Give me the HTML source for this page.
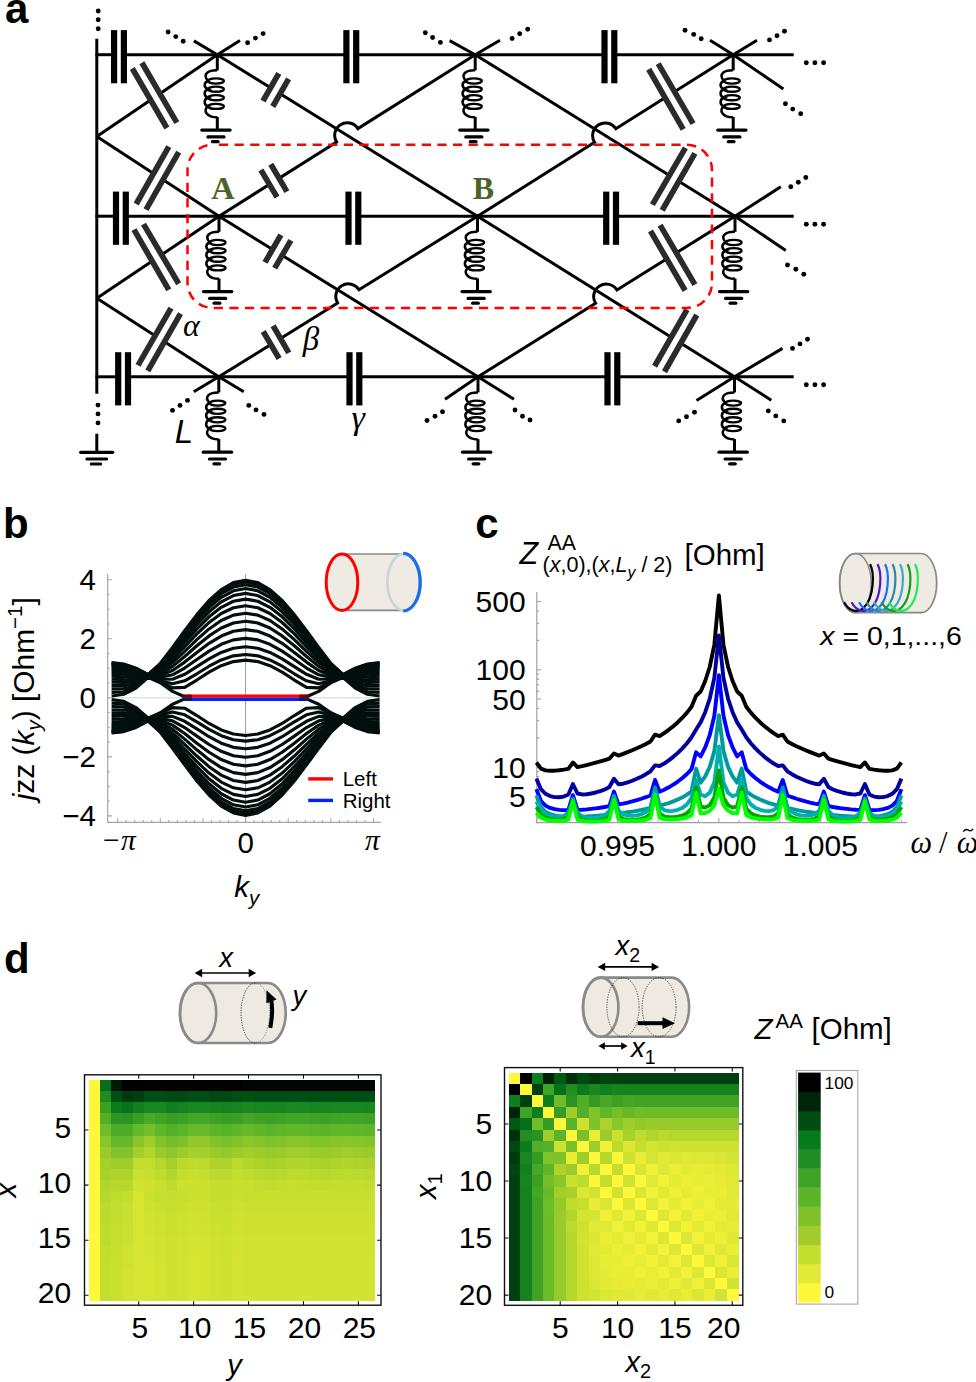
<!DOCTYPE html>
<html><head><meta charset="utf-8"><style>
html,body{margin:0;padding:0;background:#fff;}
svg{display:block;}

</style></head><body>
<svg width="976" height="1382" viewBox="0 0 976 1382">
<rect width="976" height="1382" fill="#fff"/>
<line x1="96.8" y1="38.8" x2="96.8" y2="393.7" stroke="#000" stroke-width="3" stroke-linecap="butt"/>
<line x1="96.8" y1="433.7" x2="96.8" y2="452.3" stroke="#000" stroke-width="3" stroke-linecap="butt"/>
<circle cx="98.2" cy="11" r="2.45"/>
<circle cx="98.2" cy="19.8" r="2.45"/>
<circle cx="98.2" cy="28.8" r="2.45"/>
<circle cx="98" cy="405.1" r="2.45"/>
<circle cx="98" cy="413.9" r="2.45"/>
<circle cx="98" cy="422.9" r="2.45"/>
<line x1="80.7" y1="452.3" x2="112.7" y2="452.3" stroke="#000" stroke-width="3.2" stroke-linecap="round"/>
<line x1="87" y1="459" x2="106.6" y2="459" stroke="#000" stroke-width="3.2" stroke-linecap="round"/>
<line x1="91.3" y1="464" x2="100.6" y2="464" stroke="#000" stroke-width="3.2" stroke-linecap="round"/>
<line x1="95.5" y1="54.7" x2="114.2" y2="54.7" stroke="#000" stroke-width="3" stroke-linecap="butt"/>
<line x1="123.8" y1="54.7" x2="346.5" y2="54.7" stroke="#000" stroke-width="3" stroke-linecap="butt"/>
<line x1="356.1" y1="54.7" x2="604.6" y2="54.7" stroke="#000" stroke-width="3" stroke-linecap="butt"/>
<line x1="614.2" y1="54.7" x2="793.7" y2="54.7" stroke="#000" stroke-width="3" stroke-linecap="butt"/>
<rect x="111" y="30.1" width="6.2" height="53.2" fill="#000"/>
<rect x="120.8" y="30.1" width="6.2" height="53.2" fill="#000"/>
<rect x="343.3" y="30.1" width="6.2" height="53.2" fill="#000"/>
<rect x="353.1" y="30.1" width="6.2" height="53.2" fill="#000"/>
<rect x="601.4" y="30.1" width="6.2" height="53.2" fill="#000"/>
<rect x="611.2" y="30.1" width="6.2" height="53.2" fill="#000"/>
<line x1="95.5" y1="216.2" x2="116.1" y2="216.2" stroke="#000" stroke-width="3" stroke-linecap="butt"/>
<line x1="125.7" y1="216.2" x2="348.6" y2="216.2" stroke="#000" stroke-width="3" stroke-linecap="butt"/>
<line x1="358.2" y1="216.2" x2="606.3" y2="216.2" stroke="#000" stroke-width="3" stroke-linecap="butt"/>
<line x1="615.9" y1="216.2" x2="793.7" y2="216.2" stroke="#000" stroke-width="3" stroke-linecap="butt"/>
<rect x="112.9" y="191.6" width="6.2" height="53.2" fill="#000"/>
<rect x="122.7" y="191.6" width="6.2" height="53.2" fill="#000"/>
<rect x="345.4" y="191.6" width="6.2" height="53.2" fill="#000"/>
<rect x="355.2" y="191.6" width="6.2" height="53.2" fill="#000"/>
<rect x="603.1" y="191.6" width="6.2" height="53.2" fill="#000"/>
<rect x="612.9" y="191.6" width="6.2" height="53.2" fill="#000"/>
<line x1="95.5" y1="376.8" x2="118.3" y2="376.8" stroke="#000" stroke-width="3" stroke-linecap="butt"/>
<line x1="127.9" y1="376.8" x2="349.6" y2="376.8" stroke="#000" stroke-width="3" stroke-linecap="butt"/>
<line x1="359.2" y1="376.8" x2="607.6" y2="376.8" stroke="#000" stroke-width="3" stroke-linecap="butt"/>
<line x1="617.2" y1="376.8" x2="793.7" y2="376.8" stroke="#000" stroke-width="3" stroke-linecap="butt"/>
<rect x="115.1" y="352.2" width="6.2" height="53.2" fill="#000"/>
<rect x="124.9" y="352.2" width="6.2" height="53.2" fill="#000"/>
<rect x="346.4" y="352.2" width="6.2" height="53.2" fill="#000"/>
<rect x="356.2" y="352.2" width="6.2" height="53.2" fill="#000"/>
<rect x="604.4" y="352.2" width="6.2" height="53.2" fill="#000"/>
<rect x="614.2" y="352.2" width="6.2" height="53.2" fill="#000"/>
<line x1="96.8" y1="136.6" x2="217.3" y2="54.7" stroke="#000" stroke-width="3" stroke-linecap="butt"/>
<line x1="96.8" y1="136.6" x2="219" y2="216.2" stroke="#000" stroke-width="3" stroke-linecap="butt"/>
<line x1="96.8" y1="298.3" x2="219" y2="216.2" stroke="#000" stroke-width="3" stroke-linecap="butt"/>
<line x1="96.8" y1="298.3" x2="218.8" y2="376.8" stroke="#000" stroke-width="3" stroke-linecap="butt"/>
<line x1="217.3" y1="54.7" x2="477.5" y2="216.2" stroke="#000" stroke-width="3" stroke-linecap="butt"/>
<line x1="475.2" y1="54.7" x2="735" y2="216.2" stroke="#000" stroke-width="3" stroke-linecap="butt"/>
<line x1="219" y1="216.2" x2="478" y2="376.8" stroke="#000" stroke-width="3" stroke-linecap="butt"/>
<line x1="477.5" y1="216.2" x2="734.5" y2="376.8" stroke="#000" stroke-width="3" stroke-linecap="butt"/>
<path d="M475.2 54.7L357.91 128.64A12.6 12.6 0 0 0 336.59 142.08L219 216.2" fill="none" stroke="#000" stroke-width="3"/>
<path d="M733.2 54.7L615.88 128.8A12.6 12.6 0 0 0 594.57 142.26L477.5 216.2" fill="none" stroke="#000" stroke-width="3"/>
<path d="M477.5 216.2L359.03 289.75A12.6 12.6 0 0 0 337.62 303.04L218.8 376.8" fill="none" stroke="#000" stroke-width="3"/>
<path d="M735 216.2L616.94 289.98A12.6 12.6 0 0 0 595.56 303.33L478 376.8" fill="none" stroke="#000" stroke-width="3"/>
<polygon points="132.2,68.3 167,128.2 176.9,122.8 141.8,62.6" fill="#fff"/>
<polygon points="164.44,129.46 169.36,126.6 134.76,67.04 129.84,69.9" fill="#2b2b2b"/>
<polygon points="174.34,124.06 179.26,121.19 144.36,61.34 139.44,64.21" fill="#2b2b2b"/>
<polygon points="136.1,204.2 168.9,146.5 178.8,152 145.9,209.8" fill="#fff"/>
<polygon points="171.28,148.08 166.32,145.27 133.72,202.62 138.68,205.43" fill="#2b2b2b"/>
<polygon points="181.18,153.58 176.22,150.76 143.52,208.22 148.48,211.04" fill="#2b2b2b"/>
<polygon points="133.9,229.5 168.9,290.1 178.8,283.9 143.4,224" fill="#fff"/>
<polygon points="166.33,291.35 171.27,288.5 136.47,228.25 131.53,231.1" fill="#2b2b2b"/>
<polygon points="176.24,285.18 181.15,282.28 145.96,222.72 141.05,225.62" fill="#2b2b2b"/>
<polygon points="137.9,365.5 171.1,308 180.6,313.5 147.7,371" fill="#fff"/>
<polygon points="173.47,309.6 168.53,306.75 135.53,363.9 140.47,366.75" fill="#2b2b2b"/>
<polygon points="182.97,315.09 178.03,312.26 145.33,369.41 150.27,372.24" fill="#2b2b2b"/>
<polygon points="648.6,69.1 683.3,129.6 693.2,123.8 658.1,63.5" fill="#fff"/>
<polygon points="680.73,130.84 685.67,128.01 651.17,67.86 646.23,70.69" fill="#2b2b2b"/>
<polygon points="690.64,125.06 695.56,122.19 660.66,62.24 655.74,65.11" fill="#2b2b2b"/>
<polygon points="652.3,204.8 685.5,147.7 695,153.2 662.1,210.4" fill="#fff"/>
<polygon points="687.86,149.31 682.94,146.44 649.94,203.19 654.86,206.06" fill="#2b2b2b"/>
<polygon points="697.37,154.79 692.43,151.95 659.73,208.81 664.67,211.65" fill="#2b2b2b"/>
<polygon points="650.4,230.8 685.2,290.7 695,284.8 660,224.9" fill="#fff"/>
<polygon points="682.64,291.96 687.56,289.1 652.96,229.54 648.04,232.4" fill="#2b2b2b"/>
<polygon points="692.44,286.07 697.36,283.19 662.56,223.63 657.64,226.51" fill="#2b2b2b"/>
<polygon points="654.5,366.4 687.1,309.5 696.9,314.8 664.4,371.9" fill="#fff"/>
<polygon points="689.47,311.09 684.53,308.26 652.13,364.81 657.07,367.64" fill="#2b2b2b"/>
<polygon points="699.28,316.38 694.32,313.56 662.02,370.32 666.98,373.14" fill="#2b2b2b"/>
<polygon points="262.9,101.2 278.9,73.2 288.7,78.7 272.7,106.7" fill="#fff"/>
<polygon points="281.28,74.79 276.33,71.96 260.52,99.61 265.47,102.44" fill="#2b2b2b"/>
<polygon points="291.08,80.29 286.13,77.46 270.32,105.11 275.27,107.94" fill="#2b2b2b"/>
<polygon points="260.8,169.9 277.1,197.3 287,191.8 270.7,164.1" fill="#fff"/>
<polygon points="274.55,198.59 279.45,195.67 263.35,168.61 258.45,171.53" fill="#2b2b2b"/>
<polygon points="284.44,193.07 289.35,190.18 273.26,162.83 268.35,165.72" fill="#2b2b2b"/>
<polygon points="264.9,262.6 281,234.7 291,240.2 274.6,268.3" fill="#fff"/>
<polygon points="283.37,236.3 278.43,233.45 262.53,261 267.47,263.85" fill="#2b2b2b"/>
<polygon points="293.36,241.81 288.44,238.94 272.24,266.69 277.16,269.56" fill="#2b2b2b"/>
<polygon points="263.1,331.4 279.2,358.6 288.9,353 273,325.6" fill="#fff"/>
<polygon points="276.65,359.88 281.55,356.98 265.65,330.12 260.75,333.02" fill="#2b2b2b"/>
<polygon points="286.33,354.26 291.26,351.4 275.57,324.34 270.64,327.2" fill="#2b2b2b"/>
<line x1="217.3" y1="54.7" x2="193.9" y2="40.9" stroke="#000" stroke-width="3" stroke-linecap="butt"/>
<circle cx="168.1" cy="32" r="2.45"/>
<circle cx="175.8" cy="36.6" r="2.45"/>
<circle cx="183.2" cy="41.2" r="2.45"/>
<line x1="217.3" y1="54.7" x2="240" y2="40.6" stroke="#000" stroke-width="3" stroke-linecap="butt"/>
<circle cx="247.6" cy="42.8" r="2.45"/>
<circle cx="255.4" cy="38.1" r="2.45"/>
<circle cx="263.1" cy="33.6" r="2.45"/>
<line x1="475.2" y1="54.7" x2="449.6" y2="40.6" stroke="#000" stroke-width="3" stroke-linecap="butt"/>
<circle cx="425.3" cy="32.8" r="2.45"/>
<circle cx="432.6" cy="37.5" r="2.45"/>
<circle cx="440.4" cy="42.4" r="2.45"/>
<line x1="475.2" y1="54.7" x2="500" y2="40.3" stroke="#000" stroke-width="3" stroke-linecap="butt"/>
<circle cx="512.1" cy="38.5" r="2.45"/>
<circle cx="519.7" cy="33.8" r="2.45"/>
<circle cx="527.7" cy="29.3" r="2.45"/>
<line x1="733.2" y1="54.7" x2="710" y2="40.2" stroke="#000" stroke-width="3" stroke-linecap="butt"/>
<circle cx="685" cy="30.2" r="2.45"/>
<circle cx="693.7" cy="34.4" r="2.45"/>
<circle cx="701.2" cy="38.7" r="2.45"/>
<line x1="733.2" y1="54.7" x2="757" y2="40.2" stroke="#000" stroke-width="3" stroke-linecap="butt"/>
<circle cx="769.5" cy="39.9" r="2.45"/>
<circle cx="777" cy="35.7" r="2.45"/>
<circle cx="784.5" cy="31.2" r="2.45"/>
<line x1="218.8" y1="376.8" x2="193.8" y2="391.8" stroke="#000" stroke-width="3" stroke-linecap="butt"/>
<circle cx="187.5" cy="400.4" r="2.45"/>
<circle cx="180" cy="405.4" r="2.45"/>
<circle cx="172.5" cy="410.4" r="2.45"/>
<line x1="218.8" y1="376.8" x2="243.8" y2="391.8" stroke="#000" stroke-width="3" stroke-linecap="butt"/>
<circle cx="248.8" cy="405.4" r="2.45"/>
<circle cx="256" cy="409.9" r="2.45"/>
<circle cx="264" cy="414.4" r="2.45"/>
<line x1="478" y1="376.8" x2="445" y2="399.2" stroke="#000" stroke-width="3" stroke-linecap="butt"/>
<circle cx="442.5" cy="411.8" r="2.45"/>
<circle cx="435" cy="416.3" r="2.45"/>
<circle cx="427" cy="420.5" r="2.45"/>
<line x1="478" y1="376.8" x2="514" y2="399.2" stroke="#000" stroke-width="3" stroke-linecap="butt"/>
<circle cx="515" cy="410" r="2.45"/>
<circle cx="522.5" cy="416.3" r="2.45"/>
<circle cx="530" cy="420" r="2.45"/>
<line x1="734.5" y1="376.8" x2="696.5" y2="400.4" stroke="#000" stroke-width="3" stroke-linecap="butt"/>
<circle cx="694.5" cy="412.2" r="2.45"/>
<circle cx="686.5" cy="416.7" r="2.45"/>
<circle cx="678.7" cy="420.9" r="2.45"/>
<line x1="733.2" y1="54.7" x2="783.4" y2="89.1" stroke="#000" stroke-width="3" stroke-linecap="butt"/>
<circle cx="785.4" cy="103.7" r="2.45"/>
<circle cx="792.7" cy="109.1" r="2.45"/>
<circle cx="800.7" cy="113.7" r="2.45"/>
<line x1="735" y1="216.2" x2="780.8" y2="186.8" stroke="#000" stroke-width="3" stroke-linecap="butt"/>
<circle cx="790.8" cy="186.8" r="2.45"/>
<circle cx="798.3" cy="182.3" r="2.45"/>
<circle cx="805.8" cy="177.5" r="2.45"/>
<line x1="735" y1="216.2" x2="785.8" y2="250.5" stroke="#000" stroke-width="3" stroke-linecap="butt"/>
<circle cx="787.5" cy="265" r="2.45"/>
<circle cx="795.8" cy="269.2" r="2.45"/>
<circle cx="803.8" cy="274.2" r="2.45"/>
<line x1="734.5" y1="376.8" x2="782.5" y2="348.4" stroke="#000" stroke-width="3" stroke-linecap="butt"/>
<circle cx="792.5" cy="348.4" r="2.45"/>
<circle cx="800" cy="343.9" r="2.45"/>
<circle cx="807.5" cy="339.2" r="2.45"/>
<line x1="734.5" y1="376.8" x2="771.3" y2="400.2" stroke="#000" stroke-width="3" stroke-linecap="butt"/>
<circle cx="768.3" cy="410.9" r="2.45"/>
<circle cx="775.8" cy="415.9" r="2.45"/>
<circle cx="783.8" cy="420.9" r="2.45"/>
<circle cx="806.3" cy="62.7" r="2.45"/>
<circle cx="814.9" cy="62.7" r="2.45"/>
<circle cx="823.6" cy="62.7" r="2.45"/>
<circle cx="806.3" cy="224.2" r="2.45"/>
<circle cx="814.9" cy="224.2" r="2.45"/>
<circle cx="823.6" cy="224.2" r="2.45"/>
<circle cx="806.3" cy="384.8" r="2.45"/>
<circle cx="814.9" cy="384.8" r="2.45"/>
<circle cx="823.6" cy="384.8" r="2.45"/>
<line x1="217.3" y1="54.7" x2="217.3" y2="70.3" stroke="#000" stroke-width="3" stroke-linecap="butt"/>
<path d="M217.3 70.3 C208.3 70.1 201.8 74.2 208.1 81 C203.5 82.5 203.5 87.7 208.1 89.2 C203.5 90.7 203.5 96.2 208.1 97.7 C203.5 99.2 203.5 104.9 208.1 106.4 C202.5 109.9 206.3 117.3 217.3 117.3" fill="none" stroke="#000" stroke-width="2.5"/>
<ellipse cx="216" cy="81" rx="7.9" ry="2.55" fill="none" stroke="#000" stroke-width="2.3"/>
<ellipse cx="216" cy="89.2" rx="7.9" ry="2.55" fill="none" stroke="#000" stroke-width="2.3"/>
<ellipse cx="216" cy="97.7" rx="7.9" ry="2.55" fill="none" stroke="#000" stroke-width="2.3"/>
<ellipse cx="216" cy="106.4" rx="7.9" ry="2.55" fill="none" stroke="#000" stroke-width="2.3"/>
<line x1="217.3" y1="117" x2="217.3" y2="130.1" stroke="#000" stroke-width="3" stroke-linecap="butt"/>
<line x1="201.8" y1="130.1" x2="230.1" y2="130.1" stroke="#000" stroke-width="3.2" stroke-linecap="round"/>
<line x1="207.9" y1="136.9" x2="224" y2="136.9" stroke="#000" stroke-width="3.2" stroke-linecap="round"/>
<line x1="212.4" y1="141.7" x2="218.1" y2="141.7" stroke="#000" stroke-width="3.2" stroke-linecap="round"/>
<line x1="475.2" y1="54.7" x2="475.2" y2="70.3" stroke="#000" stroke-width="3" stroke-linecap="butt"/>
<path d="M475.2 70.3 C466.2 70.1 459.7 74.2 466 81 C461.4 82.5 461.4 87.7 466 89.2 C461.4 90.7 461.4 96.2 466 97.7 C461.4 99.2 461.4 104.9 466 106.4 C460.4 109.9 464.2 117.3 475.2 117.3" fill="none" stroke="#000" stroke-width="2.5"/>
<ellipse cx="473.9" cy="81" rx="7.9" ry="2.55" fill="none" stroke="#000" stroke-width="2.3"/>
<ellipse cx="473.9" cy="89.2" rx="7.9" ry="2.55" fill="none" stroke="#000" stroke-width="2.3"/>
<ellipse cx="473.9" cy="97.7" rx="7.9" ry="2.55" fill="none" stroke="#000" stroke-width="2.3"/>
<ellipse cx="473.9" cy="106.4" rx="7.9" ry="2.55" fill="none" stroke="#000" stroke-width="2.3"/>
<line x1="475.2" y1="117" x2="475.2" y2="130.1" stroke="#000" stroke-width="3" stroke-linecap="butt"/>
<line x1="459.7" y1="130.1" x2="488" y2="130.1" stroke="#000" stroke-width="3.2" stroke-linecap="round"/>
<line x1="465.8" y1="136.9" x2="481.9" y2="136.9" stroke="#000" stroke-width="3.2" stroke-linecap="round"/>
<line x1="470.3" y1="141.7" x2="476" y2="141.7" stroke="#000" stroke-width="3.2" stroke-linecap="round"/>
<line x1="733.2" y1="54.7" x2="733.2" y2="70.3" stroke="#000" stroke-width="3" stroke-linecap="butt"/>
<path d="M733.2 70.3 C724.2 70.1 717.7 74.2 724 81 C719.4 82.5 719.4 87.7 724 89.2 C719.4 90.7 719.4 96.2 724 97.7 C719.4 99.2 719.4 104.9 724 106.4 C718.4 109.9 722.2 117.3 733.2 117.3" fill="none" stroke="#000" stroke-width="2.5"/>
<ellipse cx="731.9" cy="81" rx="7.9" ry="2.55" fill="none" stroke="#000" stroke-width="2.3"/>
<ellipse cx="731.9" cy="89.2" rx="7.9" ry="2.55" fill="none" stroke="#000" stroke-width="2.3"/>
<ellipse cx="731.9" cy="97.7" rx="7.9" ry="2.55" fill="none" stroke="#000" stroke-width="2.3"/>
<ellipse cx="731.9" cy="106.4" rx="7.9" ry="2.55" fill="none" stroke="#000" stroke-width="2.3"/>
<line x1="733.2" y1="117" x2="733.2" y2="130.1" stroke="#000" stroke-width="3" stroke-linecap="butt"/>
<line x1="717.7" y1="130.1" x2="746" y2="130.1" stroke="#000" stroke-width="3.2" stroke-linecap="round"/>
<line x1="723.8" y1="136.9" x2="739.9" y2="136.9" stroke="#000" stroke-width="3.2" stroke-linecap="round"/>
<line x1="728.3" y1="141.7" x2="734" y2="141.7" stroke="#000" stroke-width="3.2" stroke-linecap="round"/>
<line x1="219" y1="216.2" x2="219" y2="231.8" stroke="#000" stroke-width="3" stroke-linecap="butt"/>
<path d="M219 231.8 C210 231.6 203.5 235.7 209.8 242.5 C205.2 244 205.2 249.2 209.8 250.7 C205.2 252.2 205.2 257.7 209.8 259.2 C205.2 260.7 205.2 266.4 209.8 267.9 C204.2 271.4 208 278.8 219 278.8" fill="none" stroke="#000" stroke-width="2.5"/>
<ellipse cx="217.7" cy="242.5" rx="7.9" ry="2.55" fill="none" stroke="#000" stroke-width="2.3"/>
<ellipse cx="217.7" cy="250.7" rx="7.9" ry="2.55" fill="none" stroke="#000" stroke-width="2.3"/>
<ellipse cx="217.7" cy="259.2" rx="7.9" ry="2.55" fill="none" stroke="#000" stroke-width="2.3"/>
<ellipse cx="217.7" cy="267.9" rx="7.9" ry="2.55" fill="none" stroke="#000" stroke-width="2.3"/>
<line x1="219" y1="278.5" x2="219" y2="291.6" stroke="#000" stroke-width="3" stroke-linecap="butt"/>
<line x1="203.5" y1="291.6" x2="231.8" y2="291.6" stroke="#000" stroke-width="3.2" stroke-linecap="round"/>
<line x1="209.6" y1="298.4" x2="225.7" y2="298.4" stroke="#000" stroke-width="3.2" stroke-linecap="round"/>
<line x1="214.1" y1="303.2" x2="219.8" y2="303.2" stroke="#000" stroke-width="3.2" stroke-linecap="round"/>
<line x1="477.5" y1="216.2" x2="477.5" y2="231.8" stroke="#000" stroke-width="3" stroke-linecap="butt"/>
<path d="M477.5 231.8 C468.5 231.6 462 235.7 468.3 242.5 C463.7 244 463.7 249.2 468.3 250.7 C463.7 252.2 463.7 257.7 468.3 259.2 C463.7 260.7 463.7 266.4 468.3 267.9 C462.7 271.4 466.5 278.8 477.5 278.8" fill="none" stroke="#000" stroke-width="2.5"/>
<ellipse cx="476.2" cy="242.5" rx="7.9" ry="2.55" fill="none" stroke="#000" stroke-width="2.3"/>
<ellipse cx="476.2" cy="250.7" rx="7.9" ry="2.55" fill="none" stroke="#000" stroke-width="2.3"/>
<ellipse cx="476.2" cy="259.2" rx="7.9" ry="2.55" fill="none" stroke="#000" stroke-width="2.3"/>
<ellipse cx="476.2" cy="267.9" rx="7.9" ry="2.55" fill="none" stroke="#000" stroke-width="2.3"/>
<line x1="477.5" y1="278.5" x2="477.5" y2="291.6" stroke="#000" stroke-width="3" stroke-linecap="butt"/>
<line x1="462" y1="291.6" x2="490.3" y2="291.6" stroke="#000" stroke-width="3.2" stroke-linecap="round"/>
<line x1="468.1" y1="298.4" x2="484.2" y2="298.4" stroke="#000" stroke-width="3.2" stroke-linecap="round"/>
<line x1="472.6" y1="303.2" x2="478.3" y2="303.2" stroke="#000" stroke-width="3.2" stroke-linecap="round"/>
<line x1="735" y1="216.2" x2="735" y2="231.8" stroke="#000" stroke-width="3" stroke-linecap="butt"/>
<path d="M735 231.8 C726 231.6 719.5 235.7 725.8 242.5 C721.2 244 721.2 249.2 725.8 250.7 C721.2 252.2 721.2 257.7 725.8 259.2 C721.2 260.7 721.2 266.4 725.8 267.9 C720.2 271.4 724 278.8 735 278.8" fill="none" stroke="#000" stroke-width="2.5"/>
<ellipse cx="733.7" cy="242.5" rx="7.9" ry="2.55" fill="none" stroke="#000" stroke-width="2.3"/>
<ellipse cx="733.7" cy="250.7" rx="7.9" ry="2.55" fill="none" stroke="#000" stroke-width="2.3"/>
<ellipse cx="733.7" cy="259.2" rx="7.9" ry="2.55" fill="none" stroke="#000" stroke-width="2.3"/>
<ellipse cx="733.7" cy="267.9" rx="7.9" ry="2.55" fill="none" stroke="#000" stroke-width="2.3"/>
<line x1="735" y1="278.5" x2="735" y2="291.6" stroke="#000" stroke-width="3" stroke-linecap="butt"/>
<line x1="719.5" y1="291.6" x2="747.8" y2="291.6" stroke="#000" stroke-width="3.2" stroke-linecap="round"/>
<line x1="725.6" y1="298.4" x2="741.7" y2="298.4" stroke="#000" stroke-width="3.2" stroke-linecap="round"/>
<line x1="730.1" y1="303.2" x2="735.8" y2="303.2" stroke="#000" stroke-width="3.2" stroke-linecap="round"/>
<line x1="218.8" y1="376.8" x2="218.8" y2="392.4" stroke="#000" stroke-width="3" stroke-linecap="butt"/>
<path d="M218.8 392.4 C209.8 392.2 203.3 396.3 209.6 403.1 C205 404.6 205 409.8 209.6 411.3 C205 412.8 205 418.3 209.6 419.8 C205 421.3 205 427 209.6 428.5 C204 432 207.8 439.4 218.8 439.4" fill="none" stroke="#000" stroke-width="2.5"/>
<ellipse cx="217.5" cy="403.1" rx="7.9" ry="2.55" fill="none" stroke="#000" stroke-width="2.3"/>
<ellipse cx="217.5" cy="411.3" rx="7.9" ry="2.55" fill="none" stroke="#000" stroke-width="2.3"/>
<ellipse cx="217.5" cy="419.8" rx="7.9" ry="2.55" fill="none" stroke="#000" stroke-width="2.3"/>
<ellipse cx="217.5" cy="428.5" rx="7.9" ry="2.55" fill="none" stroke="#000" stroke-width="2.3"/>
<line x1="218.8" y1="439.1" x2="218.8" y2="452.2" stroke="#000" stroke-width="3" stroke-linecap="butt"/>
<line x1="203.3" y1="452.2" x2="231.6" y2="452.2" stroke="#000" stroke-width="3.2" stroke-linecap="round"/>
<line x1="209.4" y1="459" x2="225.5" y2="459" stroke="#000" stroke-width="3.2" stroke-linecap="round"/>
<line x1="213.9" y1="463.8" x2="219.6" y2="463.8" stroke="#000" stroke-width="3.2" stroke-linecap="round"/>
<line x1="478" y1="376.8" x2="478" y2="392.4" stroke="#000" stroke-width="3" stroke-linecap="butt"/>
<path d="M478 392.4 C469 392.2 462.5 396.3 468.8 403.1 C464.2 404.6 464.2 409.8 468.8 411.3 C464.2 412.8 464.2 418.3 468.8 419.8 C464.2 421.3 464.2 427 468.8 428.5 C463.2 432 467 439.4 478 439.4" fill="none" stroke="#000" stroke-width="2.5"/>
<ellipse cx="476.7" cy="403.1" rx="7.9" ry="2.55" fill="none" stroke="#000" stroke-width="2.3"/>
<ellipse cx="476.7" cy="411.3" rx="7.9" ry="2.55" fill="none" stroke="#000" stroke-width="2.3"/>
<ellipse cx="476.7" cy="419.8" rx="7.9" ry="2.55" fill="none" stroke="#000" stroke-width="2.3"/>
<ellipse cx="476.7" cy="428.5" rx="7.9" ry="2.55" fill="none" stroke="#000" stroke-width="2.3"/>
<line x1="478" y1="439.1" x2="478" y2="452.2" stroke="#000" stroke-width="3" stroke-linecap="butt"/>
<line x1="462.5" y1="452.2" x2="490.8" y2="452.2" stroke="#000" stroke-width="3.2" stroke-linecap="round"/>
<line x1="468.6" y1="459" x2="484.7" y2="459" stroke="#000" stroke-width="3.2" stroke-linecap="round"/>
<line x1="473.1" y1="463.8" x2="478.8" y2="463.8" stroke="#000" stroke-width="3.2" stroke-linecap="round"/>
<line x1="734.5" y1="376.8" x2="734.5" y2="392.4" stroke="#000" stroke-width="3" stroke-linecap="butt"/>
<path d="M734.5 392.4 C725.5 392.2 719 396.3 725.3 403.1 C720.7 404.6 720.7 409.8 725.3 411.3 C720.7 412.8 720.7 418.3 725.3 419.8 C720.7 421.3 720.7 427 725.3 428.5 C719.7 432 723.5 439.4 734.5 439.4" fill="none" stroke="#000" stroke-width="2.5"/>
<ellipse cx="733.2" cy="403.1" rx="7.9" ry="2.55" fill="none" stroke="#000" stroke-width="2.3"/>
<ellipse cx="733.2" cy="411.3" rx="7.9" ry="2.55" fill="none" stroke="#000" stroke-width="2.3"/>
<ellipse cx="733.2" cy="419.8" rx="7.9" ry="2.55" fill="none" stroke="#000" stroke-width="2.3"/>
<ellipse cx="733.2" cy="428.5" rx="7.9" ry="2.55" fill="none" stroke="#000" stroke-width="2.3"/>
<line x1="734.5" y1="439.1" x2="734.5" y2="452.2" stroke="#000" stroke-width="3" stroke-linecap="butt"/>
<line x1="719" y1="452.2" x2="747.3" y2="452.2" stroke="#000" stroke-width="3.2" stroke-linecap="round"/>
<line x1="725.1" y1="459" x2="741.2" y2="459" stroke="#000" stroke-width="3.2" stroke-linecap="round"/>
<line x1="729.6" y1="463.8" x2="735.3" y2="463.8" stroke="#000" stroke-width="3.2" stroke-linecap="round"/>
<rect x="187.5" y="144.8" width="524.5" height="163.1" rx="25" ry="25" fill="none" stroke="#ff0000" stroke-width="2.5" stroke-dasharray="9.2 6.4" stroke-dashoffset="9.1"/>
<text x="211.2" y="198.9" font-family="Liberation Serif" font-weight="bold" font-size="32.5" fill="#4d6429">A</text>
<text x="472.8" y="198.8" font-family="Liberation Serif" font-weight="bold" font-size="32" fill="#4d6429">B</text>
<text x="182.9" y="336.2" font-family="Liberation Serif" font-style="italic" font-size="32">&#945;</text>
<text x="302.8" y="349.7" font-family="Liberation Serif" font-style="italic" font-size="33">&#946;</text>
<text x="351.5" y="428.6" font-family="Liberation Serif" font-style="italic" font-size="34">&#947;</text>
<text x="174.7" y="442.5" font-family="Liberation Sans" font-style="italic" font-size="33">L</text>
<text x="5.1" y="23" font-family="Liberation Sans" font-weight="bold" font-size="42">a</text>
<line x1="245.6" y1="573.9" x2="245.6" y2="822.3" stroke="#9a9a9a" stroke-width="1" stroke-linecap="butt"/>
<line x1="107.7" y1="697.8" x2="380.9" y2="697.8" stroke="#e2e2e2" stroke-width="1.6" stroke-linecap="butt"/>
<g fill="none" stroke="#030e0e" stroke-width="3.15" stroke-linejoin="round"><polyline points="111.6,733.05 123.78,731.63 135.96,727.48 148.15,720.98 160.33,732.18 172.51,748.2 184.69,764.92 196.87,780.97 209.05,795.06 221.24,806.02 233.42,812.97 245.6,815.36 257.78,812.97 269.96,806.02 282.15,795.06 294.33,780.97 306.51,764.92 318.69,748.2 330.87,732.18 343.05,720.98 355.24,727.48 367.42,731.63 379.6,733.05"/><polyline points="111.6,732.51 123.78,731.11 135.96,727.07 148.15,720.9 160.33,731.76 172.51,747.43 184.69,763.89 196.87,779.72 209.05,793.62 221.24,804.45 233.42,811.32 245.6,813.68 257.78,811.32 269.96,804.45 282.15,793.62 294.33,779.72 306.51,763.89 318.69,747.43 330.87,731.76 343.05,720.9 355.24,727.07 367.42,731.11 379.6,732.51"/><polyline points="111.6,731.61 123.78,730.26 135.96,726.41 148.15,720.78 160.33,731.07 172.51,746.17 184.69,762.17 196.87,777.64 209.05,791.25 221.24,801.86 233.42,808.59 245.6,810.9 257.78,808.59 269.96,801.86 282.15,791.25 294.33,777.64 306.51,762.17 318.69,746.17 330.87,731.07 343.05,720.78 355.24,726.41 367.42,730.26 379.6,731.61"/><polyline points="111.6,730.36 123.78,729.07 135.96,725.49 148.15,720.61 160.33,730.12 172.51,744.42 184.69,759.8 196.87,774.76 209.05,787.96 221.24,798.27 233.42,804.82 245.6,807.07 257.78,804.82 269.96,798.27 282.15,787.96 294.33,774.76 306.51,759.8 318.69,744.42 330.87,730.12 343.05,720.61 355.24,725.49 367.42,729.07 379.6,730.36"/><polyline points="111.6,728.78 123.78,727.57 135.96,724.33 148.15,720.41 160.33,728.92 172.51,742.2 184.69,756.79 196.87,771.11 209.05,783.8 221.24,793.74 233.42,800.05 245.6,802.22 257.78,800.05 269.96,793.74 282.15,783.8 294.33,771.11 306.51,756.79 318.69,742.2 330.87,728.92 343.05,720.41 355.24,724.33 367.42,727.57 379.6,728.78"/><polyline points="111.6,726.88 123.78,725.77 135.96,722.95 148.15,720.17 160.33,727.5 172.51,739.54 184.69,753.18 196.87,766.74 209.05,778.83 221.24,788.31 233.42,794.36 245.6,796.43 257.78,794.36 269.96,788.31 282.15,778.83 294.33,766.74 306.51,753.18 318.69,739.54 330.87,727.5 343.05,720.17 355.24,722.95 367.42,725.77 379.6,726.88"/><polyline points="111.6,724.69 123.78,723.69 135.96,721.37 148.15,719.91 160.33,725.89 172.51,736.46 184.69,749 196.87,761.69 209.05,773.09 221.24,782.08 233.42,787.82 245.6,789.79 257.78,787.82 269.96,782.08 282.15,773.09 294.33,761.69 306.51,749 318.69,736.46 330.87,725.89 343.05,719.91 355.24,721.37 367.42,723.69 379.6,724.69"/><polyline points="111.6,722.21 123.78,721.35 135.96,719.62 148.15,719.63 160.33,724.12 172.51,733.01 184.69,744.3 196.87,756.03 209.05,766.68 221.24,775.13 233.42,780.53 245.6,782.39 257.78,780.53 269.96,775.13 282.15,766.68 294.33,756.03 306.51,744.3 318.69,733.01 330.87,724.12 343.05,719.63 355.24,719.62 367.42,721.35 379.6,722.21"/><polyline points="111.6,719.49 123.78,718.78 135.96,717.73 148.15,719.36 160.33,722.24 172.51,729.22 184.69,739.12 196.87,749.82 209.05,759.69 221.24,767.57 233.42,772.63 245.6,774.37 257.78,772.63 269.96,767.57 282.15,759.69 294.33,749.82 306.51,739.12 318.69,729.22 330.87,722.24 343.05,719.36 355.24,717.73 367.42,718.78 379.6,719.49"/><polyline points="111.6,716.54 123.78,716 135.96,715.76 148.15,719.09 160.33,720.3 172.51,725.15 184.69,733.52 196.87,743.15 209.05,752.24 221.24,759.56 233.42,764.29 245.6,765.92 257.78,764.29 269.96,759.56 282.15,752.24 294.33,743.15 306.51,733.52 318.69,725.15 330.87,720.3 343.05,719.09 355.24,715.76 367.42,716 379.6,716.54"/><polyline points="111.6,713.41 123.78,713.06 135.96,713.76 148.15,718.84 160.33,718.37 172.51,720.84 184.69,727.56 196.87,736.13 209.05,744.5 221.24,751.32 233.42,755.74 245.6,757.27 257.78,755.74 269.96,751.32 282.15,744.5 294.33,736.13 306.51,727.56 318.69,720.84 330.87,718.37 343.05,718.84 355.24,713.76 367.42,713.06 379.6,713.41"/><polyline points="111.6,710.11 123.78,710.01 135.96,711.8 148.15,718.62 160.33,716.55 172.51,716.39 184.69,721.3 196.87,728.93 209.05,736.72 221.24,743.16 233.42,747.35 245.6,748.8 257.78,747.35 269.96,743.16 282.15,736.72 294.33,728.93 306.51,721.3 318.69,716.39 330.87,716.55 343.05,718.62 355.24,711.8 367.42,710.01 379.6,710.11"/><polyline points="111.6,706.68 123.78,706.89 135.96,710.01 148.15,718.43 160.33,714.93 172.51,711.92 184.69,714.81 196.87,721.82 209.05,729.38 221.24,735.66 233.42,739.75 245.6,741.16 257.78,739.75 269.96,735.66 282.15,729.38 294.33,721.82 306.51,714.81 318.69,711.92 330.87,714.93 343.05,718.43 355.24,710.01 367.42,706.89 379.6,706.68"/><polyline points="111.6,703.17 123.78,703.86 135.96,708.53 148.15,718.3 160.33,713.65 172.51,707.67 184.69,708.22 196.87,715.55 209.05,723.48 221.24,729.9 233.42,734.03 245.6,735.45 257.78,734.03 269.96,729.9 282.15,723.48 294.33,715.55 306.51,708.22 318.69,707.67 330.87,713.65 343.05,718.3 355.24,708.53 367.42,703.86 379.6,703.17"/><polyline points="111.6,692.43 123.78,691.74 135.96,687.07 148.15,677.3 160.33,681.95 172.51,687.93 184.69,687.38 196.87,680.05 209.05,672.12 221.24,665.7 233.42,661.57 245.6,660.15 257.78,661.57 269.96,665.7 282.15,672.12 294.33,680.05 306.51,687.38 318.69,687.93 330.87,681.95 343.05,677.3 355.24,687.07 367.42,691.74 379.6,692.43"/><polyline points="111.6,688.92 123.78,688.71 135.96,685.59 148.15,677.17 160.33,680.67 172.51,683.68 184.69,680.79 196.87,673.78 209.05,666.22 221.24,659.94 233.42,655.85 245.6,654.44 257.78,655.85 269.96,659.94 282.15,666.22 294.33,673.78 306.51,680.79 318.69,683.68 330.87,680.67 343.05,677.17 355.24,685.59 367.42,688.71 379.6,688.92"/><polyline points="111.6,685.49 123.78,685.59 135.96,683.8 148.15,676.98 160.33,679.05 172.51,679.21 184.69,674.3 196.87,666.67 209.05,658.88 221.24,652.44 233.42,648.25 245.6,646.8 257.78,648.25 269.96,652.44 282.15,658.88 294.33,666.67 306.51,674.3 318.69,679.21 330.87,679.05 343.05,676.98 355.24,683.8 367.42,685.59 379.6,685.49"/><polyline points="111.6,682.19 123.78,682.54 135.96,681.84 148.15,676.76 160.33,677.23 172.51,674.76 184.69,668.04 196.87,659.47 209.05,651.1 221.24,644.28 233.42,639.86 245.6,638.33 257.78,639.86 269.96,644.28 282.15,651.1 294.33,659.47 306.51,668.04 318.69,674.76 330.87,677.23 343.05,676.76 355.24,681.84 367.42,682.54 379.6,682.19"/><polyline points="111.6,679.06 123.78,679.6 135.96,679.84 148.15,676.51 160.33,675.3 172.51,670.45 184.69,662.08 196.87,652.45 209.05,643.36 221.24,636.04 233.42,631.31 245.6,629.68 257.78,631.31 269.96,636.04 282.15,643.36 294.33,652.45 306.51,662.08 318.69,670.45 330.87,675.3 343.05,676.51 355.24,679.84 367.42,679.6 379.6,679.06"/><polyline points="111.6,676.11 123.78,676.82 135.96,677.87 148.15,676.24 160.33,673.36 172.51,666.38 184.69,656.48 196.87,645.78 209.05,635.91 221.24,628.03 233.42,622.97 245.6,621.23 257.78,622.97 269.96,628.03 282.15,635.91 294.33,645.78 306.51,656.48 318.69,666.38 330.87,673.36 343.05,676.24 355.24,677.87 367.42,676.82 379.6,676.11"/><polyline points="111.6,673.39 123.78,674.25 135.96,675.98 148.15,675.97 160.33,671.48 172.51,662.59 184.69,651.3 196.87,639.57 209.05,628.92 221.24,620.47 233.42,615.07 245.6,613.21 257.78,615.07 269.96,620.47 282.15,628.92 294.33,639.57 306.51,651.3 318.69,662.59 330.87,671.48 343.05,675.97 355.24,675.98 367.42,674.25 379.6,673.39"/><polyline points="111.6,670.91 123.78,671.91 135.96,674.23 148.15,675.69 160.33,669.71 172.51,659.14 184.69,646.6 196.87,633.91 209.05,622.51 221.24,613.52 233.42,607.78 245.6,605.81 257.78,607.78 269.96,613.52 282.15,622.51 294.33,633.91 306.51,646.6 318.69,659.14 330.87,669.71 343.05,675.69 355.24,674.23 367.42,671.91 379.6,670.91"/><polyline points="111.6,668.72 123.78,669.83 135.96,672.65 148.15,675.43 160.33,668.1 172.51,656.06 184.69,642.42 196.87,628.86 209.05,616.77 221.24,607.29 233.42,601.24 245.6,599.17 257.78,601.24 269.96,607.29 282.15,616.77 294.33,628.86 306.51,642.42 318.69,656.06 330.87,668.1 343.05,675.43 355.24,672.65 367.42,669.83 379.6,668.72"/><polyline points="111.6,666.82 123.78,668.03 135.96,671.27 148.15,675.19 160.33,666.68 172.51,653.4 184.69,638.81 196.87,624.49 209.05,611.8 221.24,601.86 233.42,595.55 245.6,593.38 257.78,595.55 269.96,601.86 282.15,611.8 294.33,624.49 306.51,638.81 318.69,653.4 330.87,666.68 343.05,675.19 355.24,671.27 367.42,668.03 379.6,666.82"/><polyline points="111.6,665.24 123.78,666.53 135.96,670.11 148.15,674.99 160.33,665.48 172.51,651.18 184.69,635.8 196.87,620.84 209.05,607.64 221.24,597.33 233.42,590.78 245.6,588.53 257.78,590.78 269.96,597.33 282.15,607.64 294.33,620.84 306.51,635.8 318.69,651.18 330.87,665.48 343.05,674.99 355.24,670.11 367.42,666.53 379.6,665.24"/><polyline points="111.6,663.99 123.78,665.34 135.96,669.19 148.15,674.82 160.33,664.53 172.51,649.43 184.69,633.43 196.87,617.96 209.05,604.35 221.24,593.74 233.42,587.01 245.6,584.7 257.78,587.01 269.96,593.74 282.15,604.35 294.33,617.96 306.51,633.43 318.69,649.43 330.87,664.53 343.05,674.82 355.24,669.19 367.42,665.34 379.6,663.99"/><polyline points="111.6,663.09 123.78,664.49 135.96,668.53 148.15,674.7 160.33,663.84 172.51,648.17 184.69,631.71 196.87,615.88 209.05,601.98 221.24,591.15 233.42,584.28 245.6,581.92 257.78,584.28 269.96,591.15 282.15,601.98 294.33,615.88 306.51,631.71 318.69,648.17 330.87,663.84 343.05,674.7 355.24,668.53 367.42,664.49 379.6,663.09"/><polyline points="111.6,662.55 123.78,663.97 135.96,668.12 148.15,674.62 160.33,663.42 172.51,647.4 184.69,630.68 196.87,614.63 209.05,600.54 221.24,589.58 233.42,582.63 245.6,580.24 257.78,582.63 269.96,589.58 282.15,600.54 294.33,614.63 306.51,630.68 318.69,647.4 330.87,663.42 343.05,674.62 355.24,668.12 367.42,663.97 379.6,662.55"/><polyline points="111.6,699.59 123.78,701.29 135.96,707.53 148.15,718.21 160.33,712.81 172.51,704.24 184.69,698.83"/><polyline points="306.51,698.83 318.69,704.24 330.87,712.81 343.05,718.21 355.24,707.53 367.42,701.29 379.6,699.59"/><polyline points="111.6,696.01 123.78,694.31 135.96,688.07 148.15,677.39 160.33,682.79 172.51,691.36 184.69,696.77"/><polyline points="306.51,696.77 318.69,691.36 330.87,682.79 343.05,677.39 355.24,688.07 367.42,694.31 379.6,696.01"/></g>
<line x1="182.62" y1="696.2" x2="308.58" y2="696.2" stroke="#ff0000" stroke-width="3.2" stroke-linecap="butt"/>
<line x1="182.62" y1="699.4" x2="308.58" y2="699.4" stroke="#0022ff" stroke-width="3.2" stroke-linecap="butt"/>
<line x1="182.62" y1="696.2" x2="192" y2="696.2" stroke="#7a0000" stroke-width="3.2" stroke-linecap="butt"/>
<line x1="182.62" y1="699.4" x2="192" y2="699.4" stroke="#001a80" stroke-width="3.2" stroke-linecap="butt"/>
<line x1="299.2" y1="696.2" x2="308.58" y2="696.2" stroke="#7a0000" stroke-width="3.2" stroke-linecap="butt"/>
<line x1="299.2" y1="699.4" x2="308.58" y2="699.4" stroke="#001a80" stroke-width="3.2" stroke-linecap="butt"/>
<line x1="107.7" y1="573.9" x2="107.7" y2="822.8" stroke="#a6a6a6" stroke-width="1.2" stroke-linecap="butt"/>
<line x1="107.2" y1="822.3" x2="380.9" y2="822.3" stroke="#a6a6a6" stroke-width="1.2" stroke-linecap="butt"/>
<path d="M107.7 815.92h4.2M107.7 801.15h2M107.7 786.39h2M107.7 771.62h2M107.7 756.86h4.2M107.7 742.09h2M107.7 727.33h2M107.7 712.56h2M107.7 697.8h4.2M107.7 683.03h2M107.7 668.27h2M107.7 653.5h2M107.7 638.74h4.2M107.7 623.97h2M107.7 609.21h2M107.7 594.44h2M107.7 579.68h4.2M117.64 822.3v-4M126.17 822.3v-2.3M134.7 822.3v-2.3M143.23 822.3v-2.3M151.76 822.3v-2.3M160.29 822.3v-4M168.82 822.3v-2.3M177.35 822.3v-2.3M185.89 822.3v-2.3M194.42 822.3v-2.3M202.95 822.3v-4M211.48 822.3v-2.3M220.01 822.3v-2.3M228.54 822.3v-2.3M237.07 822.3v-2.3M245.6 822.3v-4M254.13 822.3v-2.3M262.66 822.3v-2.3M271.19 822.3v-2.3M279.72 822.3v-2.3M288.25 822.3v-4M296.78 822.3v-2.3M305.31 822.3v-2.3M313.85 822.3v-2.3M322.38 822.3v-2.3M330.91 822.3v-4M339.44 822.3v-2.3M347.97 822.3v-2.3M356.5 822.3v-2.3M365.03 822.3v-2.3M373.56 822.3v-4" stroke="#a6a6a6" stroke-width="1.1" fill="none"/>
<text x="95.8" y="589.98" font-family="Liberation Sans" font-size="29.5" text-anchor="end">4</text>
<text x="95.8" y="649.04" font-family="Liberation Sans" font-size="29.5" text-anchor="end">2</text>
<text x="95.8" y="708.1" font-family="Liberation Sans" font-size="29.5" text-anchor="end">0</text>
<text x="95.8" y="767.16" font-family="Liberation Sans" font-size="29.5" text-anchor="end">&#8722;2</text>
<text x="95.8" y="826.22" font-family="Liberation Sans" font-size="29.5" text-anchor="end">&#8722;4</text>
<text x="101" y="850.3" font-family="Liberation Serif" font-style="italic" font-size="29.5">&#8722;&#960;</text>
<text x="245.6" y="853.4" font-family="Liberation Sans" font-size="29.5" text-anchor="middle">0</text>
<text x="365" y="850.3" font-family="Liberation Serif" font-style="italic" font-size="29.5">&#960;</text>
<text x="234.3" y="896.8" font-family="Liberation Sans" font-style="italic" font-size="29.5">k<tspan font-size="20.5" dy="8">y</tspan></text>
<text transform="translate(33.8,800.3) rotate(-90)" font-family="Liberation Sans" font-size="29.9"><tspan font-style="italic">j</tspan>zz (<tspan font-style="italic">k</tspan><tspan font-style="italic" font-size="20.5" dy="7">y</tspan><tspan dy="-7">) [Ohm</tspan><tspan font-size="20.5" dy="-12">&#8722;1</tspan><tspan dy="12">]</tspan></text>
<line x1="308.2" y1="778.9" x2="333" y2="778.9" stroke="#ff0000" stroke-width="3.4" stroke-linecap="butt"/>
<line x1="308.2" y1="800.4" x2="333" y2="800.4" stroke="#0022ff" stroke-width="3.4" stroke-linecap="butt"/>
<text x="342.7" y="785.8" font-family="Liberation Sans" font-size="20.5">Left</text>
<text x="342.7" y="807.9" font-family="Liberation Sans" font-size="20.5">Right</text>
<text x="3.1" y="537.6" font-family="Liberation Sans" font-weight="bold" font-size="42">b</text>
<path d="M342 554 H404.7 A16.3 28.2 0 0 1 404.7 610.4 H342 Z" fill="#efebe3" stroke="#8a8a8a" stroke-width="1.6"/>
<path d="M403.7 554 A16.3 28.2 0 0 0 403.7 610.4" fill="none" stroke="#c9d2de" stroke-width="2.6"/>
<path d="M403.2 553.4 A16.9 28.8 0 0 1 403.2 611" fill="none" stroke="#1a6cf0" stroke-width="3.2"/>
<ellipse cx="342" cy="582.2" rx="15.8" ry="28.2" fill="#efebe3" stroke="#ff0000" stroke-width="3"/>
<line x1="536.8" y1="592.1" x2="536.8" y2="823.3" stroke="#a0a0a0" stroke-width="1.2" stroke-linecap="butt"/>
<line x1="536.2" y1="822.7" x2="907" y2="822.7" stroke="#a0a0a0" stroke-width="1.2" stroke-linecap="butt"/>
<path d="M536.8 818.18h2.4M536.8 806h2.4M536.8 796.55h4.4M536.8 788.83h2.4M536.8 782.3h2.4M536.8 776.65h2.4M536.8 771.66h2.4M536.8 767.2h4.4M536.8 737.85h2.4M536.8 720.68h2.4M536.8 708.5h2.4M536.8 699.05h4.4M536.8 691.33h2.4M536.8 684.8h2.4M536.8 679.15h2.4M536.8 674.16h2.4M536.8 669.7h4.4M536.8 640.35h2.4M536.8 623.18h2.4M536.8 611h2.4M536.8 601.55h4.4M536.38 822.7v-2.4M556.66 822.7v-2.4M576.94 822.7v-2.4M597.22 822.7v-2.4M617.5 822.7v-4.4M637.78 822.7v-2.4M658.06 822.7v-2.4M678.34 822.7v-2.4M698.62 822.7v-2.4M718.9 822.7v-4.4M739.18 822.7v-2.4M759.46 822.7v-2.4M779.74 822.7v-2.4M800.02 822.7v-2.4M820.3 822.7v-4.4M840.58 822.7v-2.4M860.86 822.7v-2.4M881.14 822.7v-2.4M901.42 822.7v-2.4" stroke="#a0a0a0" stroke-width="1.1" fill="none"/>
<polyline points="536.4,762.5 540.96,768.59 545.52,770.32 550.09,770.78 554.65,770.68 559.21,770.27 563.77,769.65 568.34,768.86 572.9,762.49 577.46,767.1 582.02,766.15 586.59,765.09 591.15,763.95 595.71,762.74 600.27,761.45 604.84,760.09 609.4,758.63 613.96,753.44 618.52,755.55 623.09,753.92 627.65,752.16 632.21,750.29 636.77,748.3 641.34,746.19 645.9,743.92 650.46,741.47 655.02,734.71 659.59,736.1 664.15,733.11 668.71,729.82 673.27,726.2 677.84,722.18 682.4,717.69 686.96,712.59 691.52,706.69 696.09,695.73 700.65,691.49 705.21,681 709.77,666.76 714.34,644.78 718.9,595.35 723.46,644.78 728.02,666.76 732.59,681 737.15,691.49 741.71,695.73 746.27,706.69 750.84,712.59 755.4,717.69 759.96,722.18 764.52,726.2 769.09,729.82 773.65,733.11 778.21,736.1 782.77,734.71 787.34,741.47 791.9,743.92 796.46,746.19 801.02,748.3 805.59,750.29 810.15,752.16 814.71,753.92 819.27,755.55 823.84,753.44 828.4,758.63 832.96,760.09 837.52,761.45 842.09,762.74 846.65,763.95 851.21,765.09 855.77,766.15 860.34,767.1 864.9,762.49 869.46,768.86 874.02,769.65 878.59,770.27 883.15,770.68 887.71,770.78 892.27,770.32 896.84,768.59 901.4,762.5" fill="none" stroke="#000000" stroke-width="3.9" stroke-linejoin="round"/>
<polyline points="536.4,778.62 540.96,789.2 545.52,793.86 550.09,796.12 554.65,797.1 559.21,797.23 563.77,796.56 568.34,794.53 572.9,783.98 577.46,793.49 582.02,794.46 586.59,794.23 591.15,793.51 595.71,792.48 600.27,791.17 604.84,789.5 609.4,787.02 613.96,778.74 618.52,784.2 623.09,783.71 627.65,782.4 632.21,780.73 636.77,778.81 641.34,776.66 645.9,774.23 650.46,771.3 655.02,765.42 659.59,766.03 664.15,763.52 668.71,760.4 673.27,756.84 677.84,752.85 682.4,748.35 686.96,743.23 691.52,737.27 696.09,729.58 700.65,722.34 705.21,712.2 709.77,698.51 714.34,677.87 718.9,635.36 723.46,677.87 728.02,698.51 732.59,712.2 737.15,722.34 741.71,729.58 746.27,737.27 750.84,743.23 755.4,748.35 759.96,752.85 764.52,756.84 769.09,760.4 773.65,763.52 778.21,766.03 782.77,765.42 787.34,771.3 791.9,774.23 796.46,776.66 801.02,778.81 805.59,780.73 810.15,782.4 814.71,783.71 819.27,784.2 823.84,778.74 828.4,787.02 832.96,789.5 837.52,791.17 842.09,792.48 846.65,793.51 851.21,794.23 855.77,794.46 860.34,793.49 864.9,783.98 869.46,794.53 874.02,796.56 878.59,797.23 883.15,797.1 887.71,796.12 892.27,793.86 896.84,789.2 901.4,778.62" fill="none" stroke="#00009c" stroke-width="3.9" stroke-linejoin="round"/>
<polyline points="536.4,789.16 540.96,801 545.52,805.62 550.09,807.93 554.65,809.19 559.21,809.87 563.77,810.17 568.34,810.13 572.9,795.19 577.46,809.88 582.02,809.73 586.59,809.38 591.15,808.92 595.71,808.38 600.27,807.75 604.84,807.02 609.4,806.13 613.96,791.6 618.52,804.41 623.09,803.56 627.65,802.53 632.21,801.39 636.77,800.13 641.34,798.75 645.9,797.22 650.46,795.47 655.02,779.99 659.59,791.74 664.15,789.7 668.71,787.32 673.27,784.62 677.84,781.56 682.4,778.05 686.96,773.97 691.52,769.11 696.09,752.33 700.65,756.42 705.21,747.45 709.77,735.03 714.34,715.78 718.9,675.14 723.46,715.78 728.02,735.03 732.59,747.45 737.15,756.42 741.71,752.33 746.27,769.11 750.84,773.97 755.4,778.05 759.96,781.56 764.52,784.62 769.09,787.32 773.65,789.7 778.21,791.74 782.77,779.99 787.34,795.47 791.9,797.22 796.46,798.75 801.02,800.13 805.59,801.39 810.15,802.53 814.71,803.56 819.27,804.41 823.84,791.6 828.4,806.13 832.96,807.02 837.52,807.75 842.09,808.38 846.65,808.92 851.21,809.38 855.77,809.73 860.34,809.88 864.9,795.19 869.46,810.13 874.02,810.17 878.59,809.87 883.15,809.19 887.71,807.93 892.27,805.62 896.84,801 901.4,789.16" fill="none" stroke="#0000ff" stroke-width="3.9" stroke-linejoin="round"/>
<polyline points="536.4,795.34 540.96,807.14 545.52,811.78 550.09,814.14 554.65,815.46 559.21,816.21 563.77,816.59 568.34,816.62 572.9,798.6 577.46,816.63 582.02,816.67 586.59,816.5 591.15,816.24 595.71,815.91 600.27,815.51 604.84,815.02 609.4,814.36 613.96,795.53 618.52,813.29 623.09,812.87 627.65,812.27 632.21,811.58 636.77,810.81 641.34,809.96 645.9,808.99 650.46,807.81 655.02,787.45 659.59,805.58 664.15,804.46 668.71,803.06 673.27,801.42 677.84,799.53 682.4,797.32 686.96,794.68 691.52,791.38 696.09,768.56 700.65,782.72 705.21,776.32 709.77,766.83 714.34,751.1 718.9,715.28 723.46,751.1 728.02,766.83 732.59,776.32 737.15,782.72 741.71,768.56 746.27,791.38 750.84,794.68 755.4,797.32 759.96,799.53 764.52,801.42 769.09,803.06 773.65,804.46 778.21,805.58 782.77,787.45 787.34,807.81 791.9,808.99 796.46,809.96 801.02,810.81 805.59,811.58 810.15,812.27 814.71,812.87 819.27,813.29 823.84,795.53 828.4,814.36 832.96,815.02 837.52,815.51 842.09,815.91 846.65,816.24 851.21,816.5 855.77,816.67 860.34,816.63 864.9,798.6 869.46,816.62 874.02,816.59 878.59,816.21 883.15,815.46 887.71,814.14 892.27,811.78 896.84,807.14 901.4,795.34" fill="none" stroke="#009a9a" stroke-width="3.9" stroke-linejoin="round"/>
<polyline points="536.4,801.5 540.96,809.87 545.52,813.91 550.09,816.02 554.65,816.97 559.21,816.98 563.77,815.89 568.34,812.6 572.9,800.06 577.46,812.75 582.02,816.27 586.59,817.67 591.15,818.12 595.71,817.92 600.27,817.04 604.84,815.15 609.4,810.98 613.96,796.89 618.52,810.56 623.09,814.23 627.65,815.57 632.21,815.86 636.77,815.44 641.34,814.29 645.9,812.04 650.46,807.36 655.02,792.32 659.59,806.48 664.15,810.06 668.71,811.09 673.27,810.91 677.84,809.84 682.4,807.82 686.96,804.39 691.52,797.99 696.09,779.94 700.65,794.64 705.21,796.19 709.77,792.64 714.34,782.34 718.9,746.49 723.46,782.34 728.02,792.64 732.59,796.19 737.15,794.64 741.71,779.94 746.27,797.99 750.84,804.39 755.4,807.82 759.96,809.84 764.52,810.91 769.09,811.09 773.65,810.06 778.21,806.48 782.77,792.32 787.34,807.36 791.9,812.04 796.46,814.29 801.02,815.44 805.59,815.86 810.15,815.57 814.71,814.23 819.27,810.56 823.84,796.89 828.4,810.98 832.96,815.15 837.52,817.04 842.09,817.92 846.65,818.12 851.21,817.67 855.77,816.27 860.34,812.75 864.9,800.06 869.46,812.6 874.02,815.89 878.59,816.98 883.15,816.97 887.71,816.02 892.27,813.91 896.84,809.87 901.4,801.5" fill="none" stroke="#00b0b0" stroke-width="3.9" stroke-linejoin="round"/>
<polyline points="536.4,806.97 540.96,814.32 545.52,817.45 550.09,819.01 554.65,819.73 559.21,819.82 563.77,819.14 568.34,816.68 572.9,801 577.46,816.87 582.02,819.58 586.59,820.57 591.15,820.92 595.71,820.87 600.27,820.39 604.84,819.26 609.4,816.33 613.96,799.63 618.52,816.12 623.09,818.8 627.65,819.68 632.21,819.88 636.77,819.63 641.34,818.91 645.9,817.43 650.46,813.88 655.02,794.95 659.59,813.38 664.15,816.33 668.71,817.16 673.27,817.15 677.84,816.58 682.4,815.39 686.96,813.23 691.52,808.61 696.09,787.16 700.65,806.28 705.21,807.66 709.77,805.13 714.34,797.64 718.9,770.39 723.46,797.64 728.02,805.13 732.59,807.66 737.15,806.28 741.71,787.16 746.27,808.61 750.84,813.23 755.4,815.39 759.96,816.58 764.52,817.15 769.09,817.16 773.65,816.33 778.21,813.38 782.77,794.95 787.34,813.88 791.9,817.43 796.46,818.91 801.02,819.63 805.59,819.88 810.15,819.68 814.71,818.8 819.27,816.12 823.84,799.63 828.4,816.33 832.96,819.26 837.52,820.39 842.09,820.87 846.65,820.92 851.21,820.57 855.77,819.58 860.34,816.87 864.9,801 869.46,816.68 874.02,819.14 878.59,819.82 883.15,819.73 887.71,819.01 892.27,817.45 896.84,814.32 901.4,806.97" fill="none" stroke="#00a500" stroke-width="3.9" stroke-linejoin="round"/>
<polyline points="536.4,812.82 540.96,817.72 545.52,819.54 550.09,820.42 554.65,820.84 559.21,820.95 563.77,820.71 568.34,819.54 572.9,800.99 577.46,819.66 582.02,820.97 586.59,821.4 591.15,821.54 595.71,821.51 600.27,821.31 604.84,820.82 609.4,819.39 613.96,799.7 618.52,819.27 623.09,820.56 627.65,820.91 632.21,820.96 636.77,820.82 641.34,820.48 645.9,819.78 650.46,817.94 655.02,794.8 659.59,817.61 664.15,819.09 668.71,819.4 673.27,819.32 677.84,818.99 682.4,818.39 686.96,817.35 691.52,815.13 696.09,792.59 700.65,813.21 705.21,813.01 709.77,810.63 714.34,805.17 718.9,788.89 723.46,805.17 728.02,810.63 732.59,813.01 737.15,813.21 741.71,792.59 746.27,815.13 750.84,817.35 755.4,818.39 759.96,818.99 764.52,819.32 769.09,819.4 773.65,819.09 778.21,817.61 782.77,794.8 787.34,817.94 791.9,819.78 796.46,820.48 801.02,820.82 805.59,820.96 810.15,820.91 814.71,820.56 819.27,819.27 823.84,799.7 828.4,819.39 832.96,820.82 837.52,821.31 842.09,821.51 846.65,821.54 851.21,821.4 855.77,820.97 860.34,819.66 864.9,800.99 869.46,819.54 874.02,820.71 878.59,820.95 883.15,820.84 887.71,820.42 892.27,819.54 896.84,817.72 901.4,812.82" fill="none" stroke="#00ff00" stroke-width="3.9" stroke-linejoin="round"/>
<text x="525.6" y="612.05" font-family="Liberation Sans" font-size="30" text-anchor="end">500</text>
<text x="525.6" y="680.2" font-family="Liberation Sans" font-size="30" text-anchor="end">100</text>
<text x="525.6" y="709.55" font-family="Liberation Sans" font-size="30" text-anchor="end">50</text>
<text x="525.6" y="777.7" font-family="Liberation Sans" font-size="30" text-anchor="end">10</text>
<text x="525.6" y="807.05" font-family="Liberation Sans" font-size="30" text-anchor="end">5</text>
<text x="617.5" y="855.8" font-family="Liberation Sans" font-size="30" text-anchor="middle">0.995</text>
<text x="718.9" y="855.8" font-family="Liberation Sans" font-size="30" text-anchor="middle">1.000</text>
<text x="820.3" y="855.8" font-family="Liberation Sans" font-size="30" text-anchor="middle">1.005</text>
<text x="910.5" y="853.2" font-family="Liberation Serif" font-style="italic" font-size="30.5">&#969;</text>
<text x="939" y="853.4" font-family="Liberation Serif" font-size="30.5">/</text>
<text x="956.8" y="853.2" font-family="Liberation Serif" font-style="italic" font-size="30.5">&#969;</text>
<path d="M963.3 831.6 q2.4 -3.2 5 -1.4 t4.8 -1.3" fill="none" stroke="#000" stroke-width="1.4"/>
<text x="519.5" y="564.4" font-family="Liberation Sans" font-style="italic" font-size="30.5">Z</text>
<text x="547.6" y="550.1" font-family="Liberation Sans" font-size="21.3">AA</text>
<text x="542.6" y="571.8" font-family="Liberation Sans" font-size="21.5">(<tspan font-style="italic">x</tspan>,0),(<tspan font-style="italic">x</tspan>,<tspan font-style="italic">L</tspan><tspan font-style="italic" font-size="16" dy="6">y</tspan><tspan dy="-6"> / 2)</tspan></text>
<text x="684.5" y="565.2" font-family="Liberation Sans" font-size="29.5">[Ohm]</text>
<text x="475.2" y="538" font-family="Liberation Sans" font-weight="bold" font-size="42">c</text>
<path d="M855.4 553.5 H920.9 A15.8 29.6 0 0 1 920.9 612.7 H855.4 A15.8 29.6 0 0 1 855.4 553.5 Z" fill="#efebe3" stroke="#888" stroke-width="1.7"/>
<ellipse cx="855.4" cy="583.1" rx="15.8" ry="29.6" fill="none" stroke="#888" stroke-width="1.5"/>
<path d="M870 564.1 C874.5 572 874.5 597 864 607.5 C858 613.5 849 611.5 844.1 602.3" fill="none" stroke="#000000" stroke-width="2.2"/>
<path d="M877.5 564.1 C882 572 882 597 871.5 607.5 C865.5 613.5 856.5 611.5 851.6 602.3" fill="none" stroke="#5018c0" stroke-width="2.2"/>
<path d="M885 564.1 C889.5 572 889.5 597 879 607.5 C873 613.5 864 611.5 859.1 602.3" fill="none" stroke="#1a70ff" stroke-width="2.2"/>
<path d="M892.5 564.1 C897 572 897 597 886.5 607.5 C880.5 613.5 871.5 611.5 866.6 602.3" fill="none" stroke="#2a8aa8" stroke-width="2.2"/>
<path d="M900 564.1 C904.5 572 904.5 597 894 607.5 C888 613.5 879 611.5 874.1 602.3" fill="none" stroke="#3aa8c8" stroke-width="2.2"/>
<path d="M907.5 564.1 C912 572 912 597 901.5 607.5 C895.5 613.5 886.5 611.5 881.6 602.3" fill="none" stroke="#1a9a1a" stroke-width="2.2"/>
<path d="M915 564.1 C919.5 572 919.5 597 909 607.5 C903 613.5 894 611.5 889.1 602.3" fill="none" stroke="#1aee55" stroke-width="2.2"/>
<text x="820.3" y="644.7" font-family="Liberation Sans" font-size="25" textLength="141.5" lengthAdjust="spacingAndGlyphs"><tspan font-style="italic">x</tspan> = 0,1,...,6</text>
<text x="4.1" y="972.7" font-family="Liberation Sans" font-weight="bold" font-size="42">d</text>
<g shape-rendering="crispEdges"><rect x="89.35" y="1080.4" width="11.58" height="11.62" fill="#fff83a"/><rect x="100.33" y="1080.4" width="11.58" height="11.62" fill="#056f19"/><rect x="111.31" y="1080.4" width="11.58" height="11.62" fill="#001907"/><rect x="122.29" y="1080.4" width="11.58" height="11.62" fill="#000000"/><rect x="133.27" y="1080.4" width="11.58" height="11.62" fill="#000000"/><rect x="144.25" y="1080.4" width="11.58" height="11.62" fill="#000401"/><rect x="155.23" y="1080.4" width="11.58" height="11.62" fill="#000401"/><rect x="166.21" y="1080.4" width="11.58" height="11.62" fill="#000401"/><rect x="177.19" y="1080.4" width="11.58" height="11.62" fill="#000401"/><rect x="188.17" y="1080.4" width="11.58" height="11.62" fill="#000401"/><rect x="199.15" y="1080.4" width="11.58" height="11.62" fill="#000401"/><rect x="210.13" y="1080.4" width="11.58" height="11.62" fill="#000401"/><rect x="221.11" y="1080.4" width="11.58" height="11.62" fill="#000401"/><rect x="232.09" y="1080.4" width="11.58" height="11.62" fill="#000401"/><rect x="243.07" y="1080.4" width="11.58" height="11.62" fill="#000602"/><rect x="254.05" y="1080.4" width="11.58" height="11.62" fill="#000602"/><rect x="265.03" y="1080.4" width="11.58" height="11.62" fill="#000602"/><rect x="276.01" y="1080.4" width="11.58" height="11.62" fill="#000602"/><rect x="286.99" y="1080.4" width="11.58" height="11.62" fill="#000602"/><rect x="297.97" y="1080.4" width="11.58" height="11.62" fill="#000602"/><rect x="308.95" y="1080.4" width="11.58" height="11.62" fill="#000602"/><rect x="319.93" y="1080.4" width="11.58" height="11.62" fill="#000602"/><rect x="330.91" y="1080.4" width="11.58" height="11.62" fill="#000602"/><rect x="341.89" y="1080.4" width="11.58" height="11.62" fill="#000602"/><rect x="352.87" y="1080.4" width="11.58" height="11.62" fill="#000602"/><rect x="363.85" y="1080.4" width="11.58" height="11.62" fill="#000602"/><rect x="89.35" y="1091.42" width="11.58" height="11.62" fill="#fff83a"/><rect x="100.33" y="1091.42" width="11.58" height="11.62" fill="#1f8b22"/><rect x="111.31" y="1091.42" width="11.58" height="11.62" fill="#004f12"/><rect x="122.29" y="1091.42" width="11.58" height="11.62" fill="#003b0e"/><rect x="133.27" y="1091.42" width="11.58" height="11.62" fill="#00400f"/><rect x="144.25" y="1091.42" width="11.58" height="11.62" fill="#004f12"/><rect x="155.23" y="1091.42" width="11.58" height="11.62" fill="#004f12"/><rect x="166.21" y="1091.42" width="11.58" height="11.62" fill="#004a11"/><rect x="177.19" y="1091.42" width="11.58" height="11.62" fill="#004a11"/><rect x="188.17" y="1091.42" width="11.58" height="11.62" fill="#004f12"/><rect x="199.15" y="1091.42" width="11.58" height="11.62" fill="#004f12"/><rect x="210.13" y="1091.42" width="11.58" height="11.62" fill="#004a11"/><rect x="221.11" y="1091.42" width="11.58" height="11.62" fill="#004a11"/><rect x="232.09" y="1091.42" width="11.58" height="11.62" fill="#004f12"/><rect x="243.07" y="1091.42" width="11.58" height="11.62" fill="#015113"/><rect x="254.05" y="1091.42" width="11.58" height="11.62" fill="#004f12"/><rect x="265.03" y="1091.42" width="11.58" height="11.62" fill="#004d12"/><rect x="276.01" y="1091.42" width="11.58" height="11.62" fill="#004e12"/><rect x="286.99" y="1091.42" width="11.58" height="11.62" fill="#005013"/><rect x="297.97" y="1091.42" width="11.58" height="11.62" fill="#005012"/><rect x="308.95" y="1091.42" width="11.58" height="11.62" fill="#004e12"/><rect x="319.93" y="1091.42" width="11.58" height="11.62" fill="#004e12"/><rect x="330.91" y="1091.42" width="11.58" height="11.62" fill="#004f12"/><rect x="341.89" y="1091.42" width="11.58" height="11.62" fill="#005012"/><rect x="352.87" y="1091.42" width="11.58" height="11.62" fill="#004f12"/><rect x="363.85" y="1091.42" width="11.58" height="11.62" fill="#004e12"/><rect x="89.35" y="1102.44" width="11.58" height="11.62" fill="#fff83a"/><rect x="100.33" y="1102.44" width="11.58" height="11.62" fill="#3ba125"/><rect x="111.31" y="1102.44" width="11.58" height="11.62" fill="#0a7c1d"/><rect x="122.29" y="1102.44" width="11.58" height="11.62" fill="#06741b"/><rect x="133.27" y="1102.44" width="11.58" height="11.62" fill="#10801e"/><rect x="144.25" y="1102.44" width="11.58" height="11.62" fill="#198720"/><rect x="155.23" y="1102.44" width="11.58" height="11.62" fill="#198720"/><rect x="166.21" y="1102.44" width="11.58" height="11.62" fill="#10801e"/><rect x="177.19" y="1102.44" width="11.58" height="11.62" fill="#13821f"/><rect x="188.17" y="1102.44" width="11.58" height="11.62" fill="#198720"/><rect x="199.15" y="1102.44" width="11.58" height="11.62" fill="#198720"/><rect x="210.13" y="1102.44" width="11.58" height="11.62" fill="#16841f"/><rect x="221.11" y="1102.44" width="11.58" height="11.62" fill="#13821f"/><rect x="232.09" y="1102.44" width="11.58" height="11.62" fill="#16841f"/><rect x="243.07" y="1102.44" width="11.58" height="11.62" fill="#1c8821"/><rect x="254.05" y="1102.44" width="11.58" height="11.62" fill="#198620"/><rect x="265.03" y="1102.44" width="11.58" height="11.62" fill="#178520"/><rect x="276.01" y="1102.44" width="11.58" height="11.62" fill="#188620"/><rect x="286.99" y="1102.44" width="11.58" height="11.62" fill="#1b8821"/><rect x="297.97" y="1102.44" width="11.58" height="11.62" fill="#1a8720"/><rect x="308.95" y="1102.44" width="11.58" height="11.62" fill="#188620"/><rect x="319.93" y="1102.44" width="11.58" height="11.62" fill="#188620"/><rect x="330.91" y="1102.44" width="11.58" height="11.62" fill="#198720"/><rect x="341.89" y="1102.44" width="11.58" height="11.62" fill="#1a8720"/><rect x="352.87" y="1102.44" width="11.58" height="11.62" fill="#198720"/><rect x="363.85" y="1102.44" width="11.58" height="11.62" fill="#188620"/><rect x="89.35" y="1113.46" width="11.58" height="11.62" fill="#fff83a"/><rect x="100.33" y="1113.46" width="11.58" height="11.62" fill="#54b028"/><rect x="111.31" y="1113.46" width="11.58" height="11.62" fill="#2d9623"/><rect x="122.29" y="1113.46" width="11.58" height="11.62" fill="#2a9323"/><rect x="133.27" y="1113.46" width="11.58" height="11.62" fill="#389e24"/><rect x="144.25" y="1113.46" width="11.58" height="11.62" fill="#49aa27"/><rect x="155.23" y="1113.46" width="11.58" height="11.62" fill="#3fa325"/><rect x="166.21" y="1113.46" width="11.58" height="11.62" fill="#389e24"/><rect x="177.19" y="1113.46" width="11.58" height="11.62" fill="#3ba125"/><rect x="188.17" y="1113.46" width="11.58" height="11.62" fill="#42a626"/><rect x="199.15" y="1113.46" width="11.58" height="11.62" fill="#42a626"/><rect x="210.13" y="1113.46" width="11.58" height="11.62" fill="#3ba125"/><rect x="221.11" y="1113.46" width="11.58" height="11.62" fill="#389e24"/><rect x="232.09" y="1113.46" width="11.58" height="11.62" fill="#3ba125"/><rect x="243.07" y="1113.46" width="11.58" height="11.62" fill="#43a626"/><rect x="254.05" y="1113.46" width="11.58" height="11.62" fill="#3ea325"/><rect x="265.03" y="1113.46" width="11.58" height="11.62" fill="#3ba025"/><rect x="276.01" y="1113.46" width="11.58" height="11.62" fill="#3da325"/><rect x="286.99" y="1113.46" width="11.58" height="11.62" fill="#41a525"/><rect x="297.97" y="1113.46" width="11.58" height="11.62" fill="#41a525"/><rect x="308.95" y="1113.46" width="11.58" height="11.62" fill="#3da225"/><rect x="319.93" y="1113.46" width="11.58" height="11.62" fill="#3ca225"/><rect x="330.91" y="1113.46" width="11.58" height="11.62" fill="#3fa425"/><rect x="341.89" y="1113.46" width="11.58" height="11.62" fill="#41a525"/><rect x="352.87" y="1113.46" width="11.58" height="11.62" fill="#3fa425"/><rect x="363.85" y="1113.46" width="11.58" height="11.62" fill="#3da225"/><rect x="89.35" y="1124.48" width="11.58" height="11.62" fill="#fff83a"/><rect x="100.33" y="1124.48" width="11.58" height="11.62" fill="#70bd2a"/><rect x="111.31" y="1124.48" width="11.58" height="11.62" fill="#4dac27"/><rect x="122.29" y="1124.48" width="11.58" height="11.62" fill="#4dac27"/><rect x="133.27" y="1124.48" width="11.58" height="11.62" fill="#64b829"/><rect x="144.25" y="1124.48" width="11.58" height="11.62" fill="#74be2a"/><rect x="155.23" y="1124.48" width="11.58" height="11.62" fill="#5fb629"/><rect x="166.21" y="1124.48" width="11.58" height="11.62" fill="#54b028"/><rect x="177.19" y="1124.48" width="11.58" height="11.62" fill="#5bb529"/><rect x="188.17" y="1124.48" width="11.58" height="11.62" fill="#68b929"/><rect x="199.15" y="1124.48" width="11.58" height="11.62" fill="#68b929"/><rect x="210.13" y="1124.48" width="11.58" height="11.62" fill="#5bb529"/><rect x="221.11" y="1124.48" width="11.58" height="11.62" fill="#58b228"/><rect x="232.09" y="1124.48" width="11.58" height="11.62" fill="#5fb629"/><rect x="243.07" y="1124.48" width="11.58" height="11.62" fill="#66b929"/><rect x="254.05" y="1124.48" width="11.58" height="11.62" fill="#5fb629"/><rect x="265.03" y="1124.48" width="11.58" height="11.62" fill="#5ab429"/><rect x="276.01" y="1124.48" width="11.58" height="11.62" fill="#5eb629"/><rect x="286.99" y="1124.48" width="11.58" height="11.62" fill="#63b829"/><rect x="297.97" y="1124.48" width="11.58" height="11.62" fill="#62b729"/><rect x="308.95" y="1124.48" width="11.58" height="11.62" fill="#5db529"/><rect x="319.93" y="1124.48" width="11.58" height="11.62" fill="#5cb529"/><rect x="330.91" y="1124.48" width="11.58" height="11.62" fill="#60b729"/><rect x="341.89" y="1124.48" width="11.58" height="11.62" fill="#62b729"/><rect x="352.87" y="1124.48" width="11.58" height="11.62" fill="#60b629"/><rect x="363.85" y="1124.48" width="11.58" height="11.62" fill="#5db629"/><rect x="89.35" y="1135.5" width="11.58" height="11.62" fill="#fff83a"/><rect x="100.33" y="1135.5" width="11.58" height="11.62" fill="#89c52a"/><rect x="111.31" y="1135.5" width="11.58" height="11.62" fill="#64b829"/><rect x="122.29" y="1135.5" width="11.58" height="11.62" fill="#64b829"/><rect x="133.27" y="1135.5" width="11.58" height="11.62" fill="#89c52a"/><rect x="144.25" y="1135.5" width="11.58" height="11.62" fill="#a1cd2a"/><rect x="155.23" y="1135.5" width="11.58" height="11.62" fill="#81c32a"/><rect x="166.21" y="1135.5" width="11.58" height="11.62" fill="#74be2a"/><rect x="177.19" y="1135.5" width="11.58" height="11.62" fill="#7dc12a"/><rect x="188.17" y="1135.5" width="11.58" height="11.62" fill="#91c82a"/><rect x="199.15" y="1135.5" width="11.58" height="11.62" fill="#91c82a"/><rect x="210.13" y="1135.5" width="11.58" height="11.62" fill="#81c32a"/><rect x="221.11" y="1135.5" width="11.58" height="11.62" fill="#79c02a"/><rect x="232.09" y="1135.5" width="11.58" height="11.62" fill="#81c32a"/><rect x="243.07" y="1135.5" width="11.58" height="11.62" fill="#8cc62a"/><rect x="254.05" y="1135.5" width="11.58" height="11.62" fill="#84c42a"/><rect x="265.03" y="1135.5" width="11.58" height="11.62" fill="#7fc22a"/><rect x="276.01" y="1135.5" width="11.58" height="11.62" fill="#83c32a"/><rect x="286.99" y="1135.5" width="11.58" height="11.62" fill="#89c52a"/><rect x="297.97" y="1135.5" width="11.58" height="11.62" fill="#88c52a"/><rect x="308.95" y="1135.5" width="11.58" height="11.62" fill="#83c32a"/><rect x="319.93" y="1135.5" width="11.58" height="11.62" fill="#82c32a"/><rect x="330.91" y="1135.5" width="11.58" height="11.62" fill="#86c42a"/><rect x="341.89" y="1135.5" width="11.58" height="11.62" fill="#88c52a"/><rect x="352.87" y="1135.5" width="11.58" height="11.62" fill="#85c42a"/><rect x="363.85" y="1135.5" width="11.58" height="11.62" fill="#83c32a"/><rect x="89.35" y="1146.52" width="11.58" height="11.62" fill="#fff83a"/><rect x="100.33" y="1146.52" width="11.58" height="11.62" fill="#99cb2a"/><rect x="111.31" y="1146.52" width="11.58" height="11.62" fill="#81c32a"/><rect x="122.29" y="1146.52" width="11.58" height="11.62" fill="#81c32a"/><rect x="133.27" y="1146.52" width="11.58" height="11.62" fill="#a5cf2b"/><rect x="144.25" y="1146.52" width="11.58" height="11.62" fill="#b2d62c"/><rect x="155.23" y="1146.52" width="11.58" height="11.62" fill="#99cb2a"/><rect x="166.21" y="1146.52" width="11.58" height="11.62" fill="#8dc72a"/><rect x="177.19" y="1146.52" width="11.58" height="11.62" fill="#9dcc2a"/><rect x="188.17" y="1146.52" width="11.58" height="11.62" fill="#a5cf2b"/><rect x="199.15" y="1146.52" width="11.58" height="11.62" fill="#a5cf2b"/><rect x="210.13" y="1146.52" width="11.58" height="11.62" fill="#99cb2a"/><rect x="221.11" y="1146.52" width="11.58" height="11.62" fill="#95c92a"/><rect x="232.09" y="1146.52" width="11.58" height="11.62" fill="#9dcc2a"/><rect x="243.07" y="1146.52" width="11.58" height="11.62" fill="#a3ce2a"/><rect x="254.05" y="1146.52" width="11.58" height="11.62" fill="#9ccc2a"/><rect x="265.03" y="1146.52" width="11.58" height="11.62" fill="#97ca2a"/><rect x="276.01" y="1146.52" width="11.58" height="11.62" fill="#9bcb2a"/><rect x="286.99" y="1146.52" width="11.58" height="11.62" fill="#a0cd2a"/><rect x="297.97" y="1146.52" width="11.58" height="11.62" fill="#9fcd2a"/><rect x="308.95" y="1146.52" width="11.58" height="11.62" fill="#9bcb2a"/><rect x="319.93" y="1146.52" width="11.58" height="11.62" fill="#9acb2a"/><rect x="330.91" y="1146.52" width="11.58" height="11.62" fill="#9dcc2a"/><rect x="341.89" y="1146.52" width="11.58" height="11.62" fill="#9fcd2a"/><rect x="352.87" y="1146.52" width="11.58" height="11.62" fill="#9dcc2a"/><rect x="363.85" y="1146.52" width="11.58" height="11.62" fill="#9bcb2a"/><rect x="89.35" y="1157.54" width="11.58" height="11.62" fill="#fff83a"/><rect x="100.33" y="1157.54" width="11.58" height="11.62" fill="#a5cf2b"/><rect x="111.31" y="1157.54" width="11.58" height="11.62" fill="#a1cd2a"/><rect x="122.29" y="1157.54" width="11.58" height="11.62" fill="#a1cd2a"/><rect x="133.27" y="1157.54" width="11.58" height="11.62" fill="#c3de2e"/><rect x="144.25" y="1157.54" width="11.58" height="11.62" fill="#c3de2e"/><rect x="155.23" y="1157.54" width="11.58" height="11.62" fill="#b6d82c"/><rect x="166.21" y="1157.54" width="11.58" height="11.62" fill="#a5cf2b"/><rect x="177.19" y="1157.54" width="11.58" height="11.62" fill="#bbda2d"/><rect x="188.17" y="1157.54" width="11.58" height="11.62" fill="#bfdc2d"/><rect x="199.15" y="1157.54" width="11.58" height="11.62" fill="#bbda2d"/><rect x="210.13" y="1157.54" width="11.58" height="11.62" fill="#aed32c"/><rect x="221.11" y="1157.54" width="11.58" height="11.62" fill="#aed32c"/><rect x="232.09" y="1157.54" width="11.58" height="11.62" fill="#bbda2d"/><rect x="243.07" y="1157.54" width="11.58" height="11.62" fill="#b4d62c"/><rect x="254.05" y="1157.54" width="11.58" height="11.62" fill="#add32b"/><rect x="265.03" y="1157.54" width="11.58" height="11.62" fill="#a9d12b"/><rect x="276.01" y="1157.54" width="11.58" height="11.62" fill="#acd32b"/><rect x="286.99" y="1157.54" width="11.58" height="11.62" fill="#b1d52c"/><rect x="297.97" y="1157.54" width="11.58" height="11.62" fill="#b0d52c"/><rect x="308.95" y="1157.54" width="11.58" height="11.62" fill="#acd32b"/><rect x="319.93" y="1157.54" width="11.58" height="11.62" fill="#abd22b"/><rect x="330.91" y="1157.54" width="11.58" height="11.62" fill="#aed42c"/><rect x="341.89" y="1157.54" width="11.58" height="11.62" fill="#b0d52c"/><rect x="352.87" y="1157.54" width="11.58" height="11.62" fill="#aed42c"/><rect x="363.85" y="1157.54" width="11.58" height="11.62" fill="#acd32b"/><rect x="89.35" y="1168.56" width="11.58" height="11.62" fill="#fff83a"/><rect x="100.33" y="1168.56" width="11.58" height="11.62" fill="#a9d12b"/><rect x="111.31" y="1168.56" width="11.58" height="11.62" fill="#aed32c"/><rect x="122.29" y="1168.56" width="11.58" height="11.62" fill="#aed32c"/><rect x="133.27" y="1168.56" width="11.58" height="11.62" fill="#cbe130"/><rect x="144.25" y="1168.56" width="11.58" height="11.62" fill="#c7df2f"/><rect x="155.23" y="1168.56" width="11.58" height="11.62" fill="#bfdc2d"/><rect x="166.21" y="1168.56" width="11.58" height="11.62" fill="#b2d62c"/><rect x="177.19" y="1168.56" width="11.58" height="11.62" fill="#c3de2e"/><rect x="188.17" y="1168.56" width="11.58" height="11.62" fill="#c7df2f"/><rect x="199.15" y="1168.56" width="11.58" height="11.62" fill="#c3de2e"/><rect x="210.13" y="1168.56" width="11.58" height="11.62" fill="#bbda2d"/><rect x="221.11" y="1168.56" width="11.58" height="11.62" fill="#bbda2d"/><rect x="232.09" y="1168.56" width="11.58" height="11.62" fill="#c3de2e"/><rect x="243.07" y="1168.56" width="11.58" height="11.62" fill="#c0dc2e"/><rect x="254.05" y="1168.56" width="11.58" height="11.62" fill="#bad92d"/><rect x="265.03" y="1168.56" width="11.58" height="11.62" fill="#b7d82d"/><rect x="276.01" y="1168.56" width="11.58" height="11.62" fill="#b9d92d"/><rect x="286.99" y="1168.56" width="11.58" height="11.62" fill="#bedb2d"/><rect x="297.97" y="1168.56" width="11.58" height="11.62" fill="#bddb2d"/><rect x="308.95" y="1168.56" width="11.58" height="11.62" fill="#b9d92d"/><rect x="319.93" y="1168.56" width="11.58" height="11.62" fill="#b8d82d"/><rect x="330.91" y="1168.56" width="11.58" height="11.62" fill="#bbda2d"/><rect x="341.89" y="1168.56" width="11.58" height="11.62" fill="#bddb2d"/><rect x="352.87" y="1168.56" width="11.58" height="11.62" fill="#bbda2d"/><rect x="363.85" y="1168.56" width="11.58" height="11.62" fill="#b9d92d"/><rect x="89.35" y="1179.58" width="11.58" height="11.62" fill="#fff83a"/><rect x="100.33" y="1179.58" width="11.58" height="11.62" fill="#b2d62c"/><rect x="111.31" y="1179.58" width="11.58" height="11.62" fill="#b6d82c"/><rect x="122.29" y="1179.58" width="11.58" height="11.62" fill="#b6d82c"/><rect x="133.27" y="1179.58" width="11.58" height="11.62" fill="#d2e431"/><rect x="144.25" y="1179.58" width="11.58" height="11.62" fill="#cfe230"/><rect x="155.23" y="1179.58" width="11.58" height="11.62" fill="#c7df2f"/><rect x="166.21" y="1179.58" width="11.58" height="11.62" fill="#bfdc2d"/><rect x="177.19" y="1179.58" width="11.58" height="11.62" fill="#cbe130"/><rect x="188.17" y="1179.58" width="11.58" height="11.62" fill="#cbe130"/><rect x="199.15" y="1179.58" width="11.58" height="11.62" fill="#cbe130"/><rect x="210.13" y="1179.58" width="11.58" height="11.62" fill="#c3de2e"/><rect x="221.11" y="1179.58" width="11.58" height="11.62" fill="#c3de2e"/><rect x="232.09" y="1179.58" width="11.58" height="11.62" fill="#c7df2f"/><rect x="243.07" y="1179.58" width="11.58" height="11.62" fill="#c7df2f"/><rect x="254.05" y="1179.58" width="11.58" height="11.62" fill="#c3de2e"/><rect x="265.03" y="1179.58" width="11.58" height="11.62" fill="#c0dc2e"/><rect x="276.01" y="1179.58" width="11.58" height="11.62" fill="#c2dd2e"/><rect x="286.99" y="1179.58" width="11.58" height="11.62" fill="#c5df2e"/><rect x="297.97" y="1179.58" width="11.58" height="11.62" fill="#c5de2e"/><rect x="308.95" y="1179.58" width="11.58" height="11.62" fill="#c2dd2e"/><rect x="319.93" y="1179.58" width="11.58" height="11.62" fill="#c1dd2e"/><rect x="330.91" y="1179.58" width="11.58" height="11.62" fill="#c4de2e"/><rect x="341.89" y="1179.58" width="11.58" height="11.62" fill="#c5de2e"/><rect x="352.87" y="1179.58" width="11.58" height="11.62" fill="#c4de2e"/><rect x="363.85" y="1179.58" width="11.58" height="11.62" fill="#c2dd2e"/><rect x="89.35" y="1190.6" width="11.58" height="11.62" fill="#fff83a"/><rect x="100.33" y="1190.6" width="11.58" height="11.62" fill="#b6d82c"/><rect x="111.31" y="1190.6" width="11.58" height="11.62" fill="#bfdc2d"/><rect x="122.29" y="1190.6" width="11.58" height="11.62" fill="#c3de2e"/><rect x="133.27" y="1190.6" width="11.58" height="11.62" fill="#d6e532"/><rect x="144.25" y="1190.6" width="11.58" height="11.62" fill="#cbe12f"/><rect x="155.23" y="1190.6" width="11.58" height="11.62" fill="#c6df2f"/><rect x="166.21" y="1190.6" width="11.58" height="11.62" fill="#c3de2e"/><rect x="177.19" y="1190.6" width="11.58" height="11.62" fill="#c6df2f"/><rect x="188.17" y="1190.6" width="11.58" height="11.62" fill="#cbe12f"/><rect x="199.15" y="1190.6" width="11.58" height="11.62" fill="#c9e02f"/><rect x="210.13" y="1190.6" width="11.58" height="11.62" fill="#c5de2e"/><rect x="221.11" y="1190.6" width="11.58" height="11.62" fill="#c4de2e"/><rect x="232.09" y="1190.6" width="11.58" height="11.62" fill="#c8e02f"/><rect x="243.07" y="1190.6" width="11.58" height="11.62" fill="#c7df2f"/><rect x="254.05" y="1190.6" width="11.58" height="11.62" fill="#c7df2f"/><rect x="265.03" y="1190.6" width="11.58" height="11.62" fill="#c7df2f"/><rect x="276.01" y="1190.6" width="11.58" height="11.62" fill="#c7df2f"/><rect x="286.99" y="1190.6" width="11.58" height="11.62" fill="#c7df2f"/><rect x="297.97" y="1190.6" width="11.58" height="11.62" fill="#c7df2f"/><rect x="308.95" y="1190.6" width="11.58" height="11.62" fill="#c7df2f"/><rect x="319.93" y="1190.6" width="11.58" height="11.62" fill="#c7df2f"/><rect x="330.91" y="1190.6" width="11.58" height="11.62" fill="#c7df2f"/><rect x="341.89" y="1190.6" width="11.58" height="11.62" fill="#c7df2f"/><rect x="352.87" y="1190.6" width="11.58" height="11.62" fill="#c7df2f"/><rect x="363.85" y="1190.6" width="11.58" height="11.62" fill="#c7df2f"/><rect x="89.35" y="1201.62" width="11.58" height="11.62" fill="#fff83a"/><rect x="100.33" y="1201.62" width="11.58" height="11.62" fill="#bbda2d"/><rect x="111.31" y="1201.62" width="11.58" height="11.62" fill="#c3de2e"/><rect x="122.29" y="1201.62" width="11.58" height="11.62" fill="#c7df2f"/><rect x="133.27" y="1201.62" width="11.58" height="11.62" fill="#d6e532"/><rect x="144.25" y="1201.62" width="11.58" height="11.62" fill="#cee230"/><rect x="155.23" y="1201.62" width="11.58" height="11.62" fill="#cae02f"/><rect x="166.21" y="1201.62" width="11.58" height="11.62" fill="#c7df2f"/><rect x="177.19" y="1201.62" width="11.58" height="11.62" fill="#cae02f"/><rect x="188.17" y="1201.62" width="11.58" height="11.62" fill="#cee230"/><rect x="199.15" y="1201.62" width="11.58" height="11.62" fill="#cde130"/><rect x="210.13" y="1201.62" width="11.58" height="11.62" fill="#c8e02f"/><rect x="221.11" y="1201.62" width="11.58" height="11.62" fill="#c8df2f"/><rect x="232.09" y="1201.62" width="11.58" height="11.62" fill="#cce130"/><rect x="243.07" y="1201.62" width="11.58" height="11.62" fill="#cbe130"/><rect x="254.05" y="1201.62" width="11.58" height="11.62" fill="#cbe130"/><rect x="265.03" y="1201.62" width="11.58" height="11.62" fill="#cbe130"/><rect x="276.01" y="1201.62" width="11.58" height="11.62" fill="#cbe130"/><rect x="286.99" y="1201.62" width="11.58" height="11.62" fill="#cbe130"/><rect x="297.97" y="1201.62" width="11.58" height="11.62" fill="#cbe130"/><rect x="308.95" y="1201.62" width="11.58" height="11.62" fill="#cbe130"/><rect x="319.93" y="1201.62" width="11.58" height="11.62" fill="#cbe130"/><rect x="330.91" y="1201.62" width="11.58" height="11.62" fill="#cbe130"/><rect x="341.89" y="1201.62" width="11.58" height="11.62" fill="#cbe130"/><rect x="352.87" y="1201.62" width="11.58" height="11.62" fill="#cbe130"/><rect x="363.85" y="1201.62" width="11.58" height="11.62" fill="#cbe130"/><rect x="89.35" y="1212.64" width="11.58" height="11.62" fill="#fff83a"/><rect x="100.33" y="1212.64" width="11.58" height="11.62" fill="#bbda2d"/><rect x="111.31" y="1212.64" width="11.58" height="11.62" fill="#c3de2e"/><rect x="122.29" y="1212.64" width="11.58" height="11.62" fill="#c7df2f"/><rect x="133.27" y="1212.64" width="11.58" height="11.62" fill="#d6e532"/><rect x="144.25" y="1212.64" width="11.58" height="11.62" fill="#d0e331"/><rect x="155.23" y="1212.64" width="11.58" height="11.62" fill="#cce130"/><rect x="166.21" y="1212.64" width="11.58" height="11.62" fill="#c9e02f"/><rect x="177.19" y="1212.64" width="11.58" height="11.62" fill="#cce130"/><rect x="188.17" y="1212.64" width="11.58" height="11.62" fill="#d0e331"/><rect x="199.15" y="1212.64" width="11.58" height="11.62" fill="#cfe230"/><rect x="210.13" y="1212.64" width="11.58" height="11.62" fill="#cae02f"/><rect x="221.11" y="1212.64" width="11.58" height="11.62" fill="#cae02f"/><rect x="232.09" y="1212.64" width="11.58" height="11.62" fill="#cee230"/><rect x="243.07" y="1212.64" width="11.58" height="11.62" fill="#cde130"/><rect x="254.05" y="1212.64" width="11.58" height="11.62" fill="#cde130"/><rect x="265.03" y="1212.64" width="11.58" height="11.62" fill="#cde130"/><rect x="276.01" y="1212.64" width="11.58" height="11.62" fill="#cde130"/><rect x="286.99" y="1212.64" width="11.58" height="11.62" fill="#cde130"/><rect x="297.97" y="1212.64" width="11.58" height="11.62" fill="#cde130"/><rect x="308.95" y="1212.64" width="11.58" height="11.62" fill="#cde130"/><rect x="319.93" y="1212.64" width="11.58" height="11.62" fill="#cde130"/><rect x="330.91" y="1212.64" width="11.58" height="11.62" fill="#cde130"/><rect x="341.89" y="1212.64" width="11.58" height="11.62" fill="#cde130"/><rect x="352.87" y="1212.64" width="11.58" height="11.62" fill="#cde130"/><rect x="363.85" y="1212.64" width="11.58" height="11.62" fill="#cde130"/><rect x="89.35" y="1223.66" width="11.58" height="11.62" fill="#fff83a"/><rect x="100.33" y="1223.66" width="11.58" height="11.62" fill="#bfdc2d"/><rect x="111.31" y="1223.66" width="11.58" height="11.62" fill="#c7df2f"/><rect x="122.29" y="1223.66" width="11.58" height="11.62" fill="#cbe130"/><rect x="133.27" y="1223.66" width="11.58" height="11.62" fill="#d6e532"/><rect x="144.25" y="1223.66" width="11.58" height="11.62" fill="#d2e331"/><rect x="155.23" y="1223.66" width="11.58" height="11.62" fill="#cee230"/><rect x="166.21" y="1223.66" width="11.58" height="11.62" fill="#cbe130"/><rect x="177.19" y="1223.66" width="11.58" height="11.62" fill="#cee230"/><rect x="188.17" y="1223.66" width="11.58" height="11.62" fill="#d2e331"/><rect x="199.15" y="1223.66" width="11.58" height="11.62" fill="#d1e331"/><rect x="210.13" y="1223.66" width="11.58" height="11.62" fill="#cce130"/><rect x="221.11" y="1223.66" width="11.58" height="11.62" fill="#cbe130"/><rect x="232.09" y="1223.66" width="11.58" height="11.62" fill="#d0e331"/><rect x="243.07" y="1223.66" width="11.58" height="11.62" fill="#cfe230"/><rect x="254.05" y="1223.66" width="11.58" height="11.62" fill="#cfe230"/><rect x="265.03" y="1223.66" width="11.58" height="11.62" fill="#cfe230"/><rect x="276.01" y="1223.66" width="11.58" height="11.62" fill="#cfe230"/><rect x="286.99" y="1223.66" width="11.58" height="11.62" fill="#cfe230"/><rect x="297.97" y="1223.66" width="11.58" height="11.62" fill="#cfe230"/><rect x="308.95" y="1223.66" width="11.58" height="11.62" fill="#cfe230"/><rect x="319.93" y="1223.66" width="11.58" height="11.62" fill="#cfe230"/><rect x="330.91" y="1223.66" width="11.58" height="11.62" fill="#cfe230"/><rect x="341.89" y="1223.66" width="11.58" height="11.62" fill="#cfe230"/><rect x="352.87" y="1223.66" width="11.58" height="11.62" fill="#cfe230"/><rect x="363.85" y="1223.66" width="11.58" height="11.62" fill="#cfe230"/><rect x="89.35" y="1234.68" width="11.58" height="11.62" fill="#fff83a"/><rect x="100.33" y="1234.68" width="11.58" height="11.62" fill="#bfdc2d"/><rect x="111.31" y="1234.68" width="11.58" height="11.62" fill="#c7df2f"/><rect x="122.29" y="1234.68" width="11.58" height="11.62" fill="#cbe130"/><rect x="133.27" y="1234.68" width="11.58" height="11.62" fill="#d6e532"/><rect x="144.25" y="1234.68" width="11.58" height="11.62" fill="#d4e432"/><rect x="155.23" y="1234.68" width="11.58" height="11.62" fill="#d0e331"/><rect x="166.21" y="1234.68" width="11.58" height="11.62" fill="#cde130"/><rect x="177.19" y="1234.68" width="11.58" height="11.62" fill="#d0e331"/><rect x="188.17" y="1234.68" width="11.58" height="11.62" fill="#d4e432"/><rect x="199.15" y="1234.68" width="11.58" height="11.62" fill="#d3e431"/><rect x="210.13" y="1234.68" width="11.58" height="11.62" fill="#cee230"/><rect x="221.11" y="1234.68" width="11.58" height="11.62" fill="#cde230"/><rect x="232.09" y="1234.68" width="11.58" height="11.62" fill="#d2e331"/><rect x="243.07" y="1234.68" width="11.58" height="11.62" fill="#d0e331"/><rect x="254.05" y="1234.68" width="11.58" height="11.62" fill="#d0e331"/><rect x="265.03" y="1234.68" width="11.58" height="11.62" fill="#d0e331"/><rect x="276.01" y="1234.68" width="11.58" height="11.62" fill="#d0e331"/><rect x="286.99" y="1234.68" width="11.58" height="11.62" fill="#d0e331"/><rect x="297.97" y="1234.68" width="11.58" height="11.62" fill="#d0e331"/><rect x="308.95" y="1234.68" width="11.58" height="11.62" fill="#d0e331"/><rect x="319.93" y="1234.68" width="11.58" height="11.62" fill="#d0e331"/><rect x="330.91" y="1234.68" width="11.58" height="11.62" fill="#d0e331"/><rect x="341.89" y="1234.68" width="11.58" height="11.62" fill="#d0e331"/><rect x="352.87" y="1234.68" width="11.58" height="11.62" fill="#d0e331"/><rect x="363.85" y="1234.68" width="11.58" height="11.62" fill="#d0e331"/><rect x="89.35" y="1245.7" width="11.58" height="11.62" fill="#fff83a"/><rect x="100.33" y="1245.7" width="11.58" height="11.62" fill="#c3de2e"/><rect x="111.31" y="1245.7" width="11.58" height="11.62" fill="#c7df2f"/><rect x="122.29" y="1245.7" width="11.58" height="11.62" fill="#cfe230"/><rect x="133.27" y="1245.7" width="11.58" height="11.62" fill="#d6e532"/><rect x="144.25" y="1245.7" width="11.58" height="11.62" fill="#d4e432"/><rect x="155.23" y="1245.7" width="11.58" height="11.62" fill="#d0e331"/><rect x="166.21" y="1245.7" width="11.58" height="11.62" fill="#cde130"/><rect x="177.19" y="1245.7" width="11.58" height="11.62" fill="#d0e331"/><rect x="188.17" y="1245.7" width="11.58" height="11.62" fill="#d4e432"/><rect x="199.15" y="1245.7" width="11.58" height="11.62" fill="#d3e431"/><rect x="210.13" y="1245.7" width="11.58" height="11.62" fill="#cee230"/><rect x="221.11" y="1245.7" width="11.58" height="11.62" fill="#cde230"/><rect x="232.09" y="1245.7" width="11.58" height="11.62" fill="#d2e331"/><rect x="243.07" y="1245.7" width="11.58" height="11.62" fill="#d0e331"/><rect x="254.05" y="1245.7" width="11.58" height="11.62" fill="#d0e331"/><rect x="265.03" y="1245.7" width="11.58" height="11.62" fill="#d0e331"/><rect x="276.01" y="1245.7" width="11.58" height="11.62" fill="#d0e331"/><rect x="286.99" y="1245.7" width="11.58" height="11.62" fill="#d0e331"/><rect x="297.97" y="1245.7" width="11.58" height="11.62" fill="#d0e331"/><rect x="308.95" y="1245.7" width="11.58" height="11.62" fill="#d0e331"/><rect x="319.93" y="1245.7" width="11.58" height="11.62" fill="#d0e331"/><rect x="330.91" y="1245.7" width="11.58" height="11.62" fill="#d0e331"/><rect x="341.89" y="1245.7" width="11.58" height="11.62" fill="#d0e331"/><rect x="352.87" y="1245.7" width="11.58" height="11.62" fill="#d0e331"/><rect x="363.85" y="1245.7" width="11.58" height="11.62" fill="#d0e331"/><rect x="89.35" y="1256.72" width="11.58" height="11.62" fill="#fff83a"/><rect x="100.33" y="1256.72" width="11.58" height="11.62" fill="#c3de2e"/><rect x="111.31" y="1256.72" width="11.58" height="11.62" fill="#cbe130"/><rect x="122.29" y="1256.72" width="11.58" height="11.62" fill="#cfe230"/><rect x="133.27" y="1256.72" width="11.58" height="11.62" fill="#d6e532"/><rect x="144.25" y="1256.72" width="11.58" height="11.62" fill="#d6e532"/><rect x="155.23" y="1256.72" width="11.58" height="11.62" fill="#d2e331"/><rect x="166.21" y="1256.72" width="11.58" height="11.62" fill="#cfe230"/><rect x="177.19" y="1256.72" width="11.58" height="11.62" fill="#d2e331"/><rect x="188.17" y="1256.72" width="11.58" height="11.62" fill="#d6e532"/><rect x="199.15" y="1256.72" width="11.58" height="11.62" fill="#d4e432"/><rect x="210.13" y="1256.72" width="11.58" height="11.62" fill="#d0e331"/><rect x="221.11" y="1256.72" width="11.58" height="11.62" fill="#cfe231"/><rect x="232.09" y="1256.72" width="11.58" height="11.62" fill="#d4e432"/><rect x="243.07" y="1256.72" width="11.58" height="11.62" fill="#d2e431"/><rect x="254.05" y="1256.72" width="11.58" height="11.62" fill="#d2e431"/><rect x="265.03" y="1256.72" width="11.58" height="11.62" fill="#d2e431"/><rect x="276.01" y="1256.72" width="11.58" height="11.62" fill="#d2e431"/><rect x="286.99" y="1256.72" width="11.58" height="11.62" fill="#d2e431"/><rect x="297.97" y="1256.72" width="11.58" height="11.62" fill="#d2e431"/><rect x="308.95" y="1256.72" width="11.58" height="11.62" fill="#d2e431"/><rect x="319.93" y="1256.72" width="11.58" height="11.62" fill="#d2e431"/><rect x="330.91" y="1256.72" width="11.58" height="11.62" fill="#d2e431"/><rect x="341.89" y="1256.72" width="11.58" height="11.62" fill="#d2e431"/><rect x="352.87" y="1256.72" width="11.58" height="11.62" fill="#d2e431"/><rect x="363.85" y="1256.72" width="11.58" height="11.62" fill="#d2e431"/><rect x="89.35" y="1267.74" width="11.58" height="11.62" fill="#fff83a"/><rect x="100.33" y="1267.74" width="11.58" height="11.62" fill="#c3de2e"/><rect x="111.31" y="1267.74" width="11.58" height="11.62" fill="#cbe130"/><rect x="122.29" y="1267.74" width="11.58" height="11.62" fill="#d2e431"/><rect x="133.27" y="1267.74" width="11.58" height="11.62" fill="#d6e532"/><rect x="144.25" y="1267.74" width="11.58" height="11.62" fill="#d6e532"/><rect x="155.23" y="1267.74" width="11.58" height="11.62" fill="#d2e331"/><rect x="166.21" y="1267.74" width="11.58" height="11.62" fill="#cfe230"/><rect x="177.19" y="1267.74" width="11.58" height="11.62" fill="#d2e331"/><rect x="188.17" y="1267.74" width="11.58" height="11.62" fill="#d6e532"/><rect x="199.15" y="1267.74" width="11.58" height="11.62" fill="#d4e432"/><rect x="210.13" y="1267.74" width="11.58" height="11.62" fill="#d0e331"/><rect x="221.11" y="1267.74" width="11.58" height="11.62" fill="#cfe231"/><rect x="232.09" y="1267.74" width="11.58" height="11.62" fill="#d4e432"/><rect x="243.07" y="1267.74" width="11.58" height="11.62" fill="#d2e431"/><rect x="254.05" y="1267.74" width="11.58" height="11.62" fill="#d2e431"/><rect x="265.03" y="1267.74" width="11.58" height="11.62" fill="#d2e431"/><rect x="276.01" y="1267.74" width="11.58" height="11.62" fill="#d2e431"/><rect x="286.99" y="1267.74" width="11.58" height="11.62" fill="#d2e431"/><rect x="297.97" y="1267.74" width="11.58" height="11.62" fill="#d2e431"/><rect x="308.95" y="1267.74" width="11.58" height="11.62" fill="#d2e431"/><rect x="319.93" y="1267.74" width="11.58" height="11.62" fill="#d2e431"/><rect x="330.91" y="1267.74" width="11.58" height="11.62" fill="#d2e431"/><rect x="341.89" y="1267.74" width="11.58" height="11.62" fill="#d2e431"/><rect x="352.87" y="1267.74" width="11.58" height="11.62" fill="#d2e431"/><rect x="363.85" y="1267.74" width="11.58" height="11.62" fill="#d2e431"/><rect x="89.35" y="1278.76" width="11.58" height="11.62" fill="#fff83a"/><rect x="100.33" y="1278.76" width="11.58" height="11.62" fill="#c3de2e"/><rect x="111.31" y="1278.76" width="11.58" height="11.62" fill="#cbe130"/><rect x="122.29" y="1278.76" width="11.58" height="11.62" fill="#d2e431"/><rect x="133.27" y="1278.76" width="11.58" height="11.62" fill="#d6e532"/><rect x="144.25" y="1278.76" width="11.58" height="11.62" fill="#d6e532"/><rect x="155.23" y="1278.76" width="11.58" height="11.62" fill="#d2e331"/><rect x="166.21" y="1278.76" width="11.58" height="11.62" fill="#cfe230"/><rect x="177.19" y="1278.76" width="11.58" height="11.62" fill="#d2e331"/><rect x="188.17" y="1278.76" width="11.58" height="11.62" fill="#d6e532"/><rect x="199.15" y="1278.76" width="11.58" height="11.62" fill="#d4e432"/><rect x="210.13" y="1278.76" width="11.58" height="11.62" fill="#d0e331"/><rect x="221.11" y="1278.76" width="11.58" height="11.62" fill="#cfe231"/><rect x="232.09" y="1278.76" width="11.58" height="11.62" fill="#d4e432"/><rect x="243.07" y="1278.76" width="11.58" height="11.62" fill="#d2e431"/><rect x="254.05" y="1278.76" width="11.58" height="11.62" fill="#d2e431"/><rect x="265.03" y="1278.76" width="11.58" height="11.62" fill="#d2e431"/><rect x="276.01" y="1278.76" width="11.58" height="11.62" fill="#d2e431"/><rect x="286.99" y="1278.76" width="11.58" height="11.62" fill="#d2e431"/><rect x="297.97" y="1278.76" width="11.58" height="11.62" fill="#d2e431"/><rect x="308.95" y="1278.76" width="11.58" height="11.62" fill="#d2e431"/><rect x="319.93" y="1278.76" width="11.58" height="11.62" fill="#d2e431"/><rect x="330.91" y="1278.76" width="11.58" height="11.62" fill="#d2e431"/><rect x="341.89" y="1278.76" width="11.58" height="11.62" fill="#d2e431"/><rect x="352.87" y="1278.76" width="11.58" height="11.62" fill="#d2e431"/><rect x="363.85" y="1278.76" width="11.58" height="11.62" fill="#d2e431"/><rect x="89.35" y="1289.78" width="11.58" height="11.62" fill="#fff83a"/><rect x="100.33" y="1289.78" width="11.58" height="11.62" fill="#c3de2e"/><rect x="111.31" y="1289.78" width="11.58" height="11.62" fill="#cbe130"/><rect x="122.29" y="1289.78" width="11.58" height="11.62" fill="#d2e431"/><rect x="133.27" y="1289.78" width="11.58" height="11.62" fill="#d6e532"/><rect x="144.25" y="1289.78" width="11.58" height="11.62" fill="#d6e532"/><rect x="155.23" y="1289.78" width="11.58" height="11.62" fill="#d2e331"/><rect x="166.21" y="1289.78" width="11.58" height="11.62" fill="#cfe230"/><rect x="177.19" y="1289.78" width="11.58" height="11.62" fill="#d2e331"/><rect x="188.17" y="1289.78" width="11.58" height="11.62" fill="#d6e532"/><rect x="199.15" y="1289.78" width="11.58" height="11.62" fill="#d4e432"/><rect x="210.13" y="1289.78" width="11.58" height="11.62" fill="#d0e331"/><rect x="221.11" y="1289.78" width="11.58" height="11.62" fill="#cfe231"/><rect x="232.09" y="1289.78" width="11.58" height="11.62" fill="#d4e432"/><rect x="243.07" y="1289.78" width="11.58" height="11.62" fill="#d2e431"/><rect x="254.05" y="1289.78" width="11.58" height="11.62" fill="#d2e431"/><rect x="265.03" y="1289.78" width="11.58" height="11.62" fill="#d2e431"/><rect x="276.01" y="1289.78" width="11.58" height="11.62" fill="#d2e431"/><rect x="286.99" y="1289.78" width="11.58" height="11.62" fill="#d2e431"/><rect x="297.97" y="1289.78" width="11.58" height="11.62" fill="#d2e431"/><rect x="308.95" y="1289.78" width="11.58" height="11.62" fill="#d2e431"/><rect x="319.93" y="1289.78" width="11.58" height="11.62" fill="#d2e431"/><rect x="330.91" y="1289.78" width="11.58" height="11.62" fill="#d2e431"/><rect x="341.89" y="1289.78" width="11.58" height="11.62" fill="#d2e431"/><rect x="352.87" y="1289.78" width="11.58" height="11.62" fill="#d2e431"/><rect x="363.85" y="1289.78" width="11.58" height="11.62" fill="#d2e431"/></g>
<rect x="84.5" y="1074.8" width="296.5" height="230.4" fill="none" stroke="#111" stroke-width="1.4"/><path d="M138.76 1074.8v4M138.76 1305.2v-4M193.66 1074.8v4M193.66 1305.2v-4M248.56 1074.8v4M248.56 1305.2v-4M303.46 1074.8v4M303.46 1305.2v-4M358.36 1074.8v4M358.36 1305.2v-4M84.5 1129.99h4M381 1129.99h-4M84.5 1185.09h4M381 1185.09h-4M84.5 1240.19h4M381 1240.19h-4M84.5 1295.29h4M381 1295.29h-4" stroke="#111" stroke-width="1.1" fill="none"/>
<text x="139.76" y="1337.8" font-family="Liberation Sans" font-size="30" text-anchor="middle">5</text>
<text x="194.66" y="1337.8" font-family="Liberation Sans" font-size="30" text-anchor="middle">10</text>
<text x="249.56" y="1337.8" font-family="Liberation Sans" font-size="30" text-anchor="middle">15</text>
<text x="304.46" y="1337.8" font-family="Liberation Sans" font-size="30" text-anchor="middle">20</text>
<text x="359.36" y="1337.8" font-family="Liberation Sans" font-size="30" text-anchor="middle">25</text>
<text x="71.2" y="1137.99" font-family="Liberation Sans" font-size="30" text-anchor="end">5</text>
<text x="71.2" y="1193.09" font-family="Liberation Sans" font-size="30" text-anchor="end">10</text>
<text x="71.2" y="1248.19" font-family="Liberation Sans" font-size="30" text-anchor="end">15</text>
<text x="71.2" y="1303.29" font-family="Liberation Sans" font-size="30" text-anchor="end">20</text>
<text x="227.2" y="1375" font-family="Liberation Sans" font-style="italic" font-size="29">y</text>
<text transform="translate(16.4,1197.5) rotate(-90)" font-family="Liberation Sans" font-style="italic" font-size="29">x</text>
<g shape-rendering="crispEdges"><rect x="508.6" y="1072.6" width="12.07" height="12.01" fill="#fff83a"/><rect x="520.07" y="1072.6" width="12.07" height="12.01" fill="#000000"/><rect x="531.54" y="1072.6" width="12.07" height="12.01" fill="#0d7e1d"/><rect x="543.01" y="1072.6" width="12.07" height="12.01" fill="#002209"/><rect x="554.48" y="1072.6" width="12.07" height="12.01" fill="#025915"/><rect x="565.95" y="1072.6" width="12.07" height="12.01" fill="#00310c"/><rect x="577.42" y="1072.6" width="12.07" height="12.01" fill="#004a11"/><rect x="588.89" y="1072.6" width="12.07" height="12.01" fill="#003b0e"/><rect x="600.36" y="1072.6" width="12.07" height="12.01" fill="#004510"/><rect x="611.83" y="1072.6" width="12.07" height="12.01" fill="#00400f"/><rect x="623.3" y="1072.6" width="12.07" height="12.01" fill="#00400f"/><rect x="634.77" y="1072.6" width="12.07" height="12.01" fill="#00400f"/><rect x="646.24" y="1072.6" width="12.07" height="12.01" fill="#00400f"/><rect x="657.71" y="1072.6" width="12.07" height="12.01" fill="#00400f"/><rect x="669.18" y="1072.6" width="12.07" height="12.01" fill="#00400f"/><rect x="680.65" y="1072.6" width="12.07" height="12.01" fill="#00400f"/><rect x="692.12" y="1072.6" width="12.07" height="12.01" fill="#00400f"/><rect x="703.59" y="1072.6" width="12.07" height="12.01" fill="#00400f"/><rect x="715.06" y="1072.6" width="12.07" height="12.01" fill="#00400f"/><rect x="726.53" y="1072.6" width="12.07" height="12.01" fill="#00400f"/><rect x="508.6" y="1084.01" width="12.07" height="12.01" fill="#000000"/><rect x="520.07" y="1084.01" width="12.07" height="12.01" fill="#fff83a"/><rect x="531.54" y="1084.01" width="12.07" height="12.01" fill="#00400f"/><rect x="543.01" y="1084.01" width="12.07" height="12.01" fill="#3fa325"/><rect x="554.48" y="1084.01" width="12.07" height="12.01" fill="#056f19"/><rect x="565.95" y="1084.01" width="12.07" height="12.01" fill="#238d22"/><rect x="577.42" y="1084.01" width="12.07" height="12.01" fill="#0a7c1d"/><rect x="588.89" y="1084.01" width="12.07" height="12.01" fill="#198720"/><rect x="600.36" y="1084.01" width="12.07" height="12.01" fill="#10801e"/><rect x="611.83" y="1084.01" width="12.07" height="12.01" fill="#16841f"/><rect x="623.3" y="1084.01" width="12.07" height="12.01" fill="#13821f"/><rect x="634.77" y="1084.01" width="12.07" height="12.01" fill="#13821f"/><rect x="646.24" y="1084.01" width="12.07" height="12.01" fill="#13821f"/><rect x="657.71" y="1084.01" width="12.07" height="12.01" fill="#13821f"/><rect x="669.18" y="1084.01" width="12.07" height="12.01" fill="#13821f"/><rect x="680.65" y="1084.01" width="12.07" height="12.01" fill="#13821f"/><rect x="692.12" y="1084.01" width="12.07" height="12.01" fill="#13821f"/><rect x="703.59" y="1084.01" width="12.07" height="12.01" fill="#13821f"/><rect x="715.06" y="1084.01" width="12.07" height="12.01" fill="#13821f"/><rect x="726.53" y="1084.01" width="12.07" height="12.01" fill="#13821f"/><rect x="508.6" y="1095.42" width="12.07" height="12.01" fill="#0d7e1d"/><rect x="520.07" y="1095.42" width="12.07" height="12.01" fill="#00400f"/><rect x="531.54" y="1095.42" width="12.07" height="12.01" fill="#fff83a"/><rect x="543.01" y="1095.42" width="12.07" height="12.01" fill="#0d7e1d"/><rect x="554.48" y="1095.42" width="12.07" height="12.01" fill="#70bd2a"/><rect x="565.95" y="1095.42" width="12.07" height="12.01" fill="#2a9323"/><rect x="577.42" y="1095.42" width="12.07" height="12.01" fill="#51ae27"/><rect x="588.89" y="1095.42" width="12.07" height="12.01" fill="#349b24"/><rect x="600.36" y="1095.42" width="12.07" height="12.01" fill="#46a826"/><rect x="611.83" y="1095.42" width="12.07" height="12.01" fill="#3ba125"/><rect x="623.3" y="1095.42" width="12.07" height="12.01" fill="#42a626"/><rect x="634.77" y="1095.42" width="12.07" height="12.01" fill="#3fa325"/><rect x="646.24" y="1095.42" width="12.07" height="12.01" fill="#3fa325"/><rect x="657.71" y="1095.42" width="12.07" height="12.01" fill="#3fa325"/><rect x="669.18" y="1095.42" width="12.07" height="12.01" fill="#3fa325"/><rect x="680.65" y="1095.42" width="12.07" height="12.01" fill="#3fa325"/><rect x="692.12" y="1095.42" width="12.07" height="12.01" fill="#3fa325"/><rect x="703.59" y="1095.42" width="12.07" height="12.01" fill="#3fa325"/><rect x="715.06" y="1095.42" width="12.07" height="12.01" fill="#3fa325"/><rect x="726.53" y="1095.42" width="12.07" height="12.01" fill="#3fa325"/><rect x="508.6" y="1106.83" width="12.07" height="12.01" fill="#002209"/><rect x="520.07" y="1106.83" width="12.07" height="12.01" fill="#3fa325"/><rect x="531.54" y="1106.83" width="12.07" height="12.01" fill="#0d7e1d"/><rect x="543.01" y="1106.83" width="12.07" height="12.01" fill="#fff83a"/><rect x="554.48" y="1106.83" width="12.07" height="12.01" fill="#349b24"/><rect x="565.95" y="1106.83" width="12.07" height="12.01" fill="#a1cd2a"/><rect x="577.42" y="1106.83" width="12.07" height="12.01" fill="#54b028"/><rect x="588.89" y="1106.83" width="12.07" height="12.01" fill="#81c32a"/><rect x="600.36" y="1106.83" width="12.07" height="12.01" fill="#5fb629"/><rect x="611.83" y="1106.83" width="12.07" height="12.01" fill="#74be2a"/><rect x="623.3" y="1106.83" width="12.07" height="12.01" fill="#68b929"/><rect x="634.77" y="1106.83" width="12.07" height="12.01" fill="#70bd2a"/><rect x="646.24" y="1106.83" width="12.07" height="12.01" fill="#6cbb29"/><rect x="657.71" y="1106.83" width="12.07" height="12.01" fill="#6cbb29"/><rect x="669.18" y="1106.83" width="12.07" height="12.01" fill="#6cbb29"/><rect x="680.65" y="1106.83" width="12.07" height="12.01" fill="#6cbb29"/><rect x="692.12" y="1106.83" width="12.07" height="12.01" fill="#6cbb29"/><rect x="703.59" y="1106.83" width="12.07" height="12.01" fill="#6cbb29"/><rect x="715.06" y="1106.83" width="12.07" height="12.01" fill="#6cbb29"/><rect x="726.53" y="1106.83" width="12.07" height="12.01" fill="#6cbb29"/><rect x="508.6" y="1118.24" width="12.07" height="12.01" fill="#025915"/><rect x="520.07" y="1118.24" width="12.07" height="12.01" fill="#056f19"/><rect x="531.54" y="1118.24" width="12.07" height="12.01" fill="#70bd2a"/><rect x="543.01" y="1118.24" width="12.07" height="12.01" fill="#349b24"/><rect x="554.48" y="1118.24" width="12.07" height="12.01" fill="#fff83a"/><rect x="565.95" y="1118.24" width="12.07" height="12.01" fill="#5ab429"/><rect x="577.42" y="1118.24" width="12.07" height="12.01" fill="#cde130"/><rect x="588.89" y="1118.24" width="12.07" height="12.01" fill="#7fc22a"/><rect x="600.36" y="1118.24" width="12.07" height="12.01" fill="#acd22b"/><rect x="611.83" y="1118.24" width="12.07" height="12.01" fill="#8bc62a"/><rect x="623.3" y="1118.24" width="12.07" height="12.01" fill="#9fcd2a"/><rect x="634.77" y="1118.24" width="12.07" height="12.01" fill="#93c92a"/><rect x="646.24" y="1118.24" width="12.07" height="12.01" fill="#9bcb2a"/><rect x="657.71" y="1118.24" width="12.07" height="12.01" fill="#97ca2a"/><rect x="669.18" y="1118.24" width="12.07" height="12.01" fill="#97ca2a"/><rect x="680.65" y="1118.24" width="12.07" height="12.01" fill="#97ca2a"/><rect x="692.12" y="1118.24" width="12.07" height="12.01" fill="#97ca2a"/><rect x="703.59" y="1118.24" width="12.07" height="12.01" fill="#97ca2a"/><rect x="715.06" y="1118.24" width="12.07" height="12.01" fill="#97ca2a"/><rect x="726.53" y="1118.24" width="12.07" height="12.01" fill="#97ca2a"/><rect x="508.6" y="1129.65" width="12.07" height="12.01" fill="#00310c"/><rect x="520.07" y="1129.65" width="12.07" height="12.01" fill="#238d22"/><rect x="531.54" y="1129.65" width="12.07" height="12.01" fill="#2a9323"/><rect x="543.01" y="1129.65" width="12.07" height="12.01" fill="#a1cd2a"/><rect x="554.48" y="1129.65" width="12.07" height="12.01" fill="#5ab429"/><rect x="565.95" y="1129.65" width="12.07" height="12.01" fill="#fff83a"/><rect x="577.42" y="1129.65" width="12.07" height="12.01" fill="#79c02a"/><rect x="588.89" y="1129.65" width="12.07" height="12.01" fill="#e8ed36"/><rect x="600.36" y="1129.65" width="12.07" height="12.01" fill="#9dcc2a"/><rect x="611.83" y="1129.65" width="12.07" height="12.01" fill="#cbe130"/><rect x="623.3" y="1129.65" width="12.07" height="12.01" fill="#a9d12b"/><rect x="634.77" y="1129.65" width="12.07" height="12.01" fill="#bfdc2d"/><rect x="646.24" y="1129.65" width="12.07" height="12.01" fill="#b2d62c"/><rect x="657.71" y="1129.65" width="12.07" height="12.01" fill="#bbda2d"/><rect x="669.18" y="1129.65" width="12.07" height="12.01" fill="#b6d82c"/><rect x="680.65" y="1129.65" width="12.07" height="12.01" fill="#b6d82c"/><rect x="692.12" y="1129.65" width="12.07" height="12.01" fill="#b6d82c"/><rect x="703.59" y="1129.65" width="12.07" height="12.01" fill="#b6d82c"/><rect x="715.06" y="1129.65" width="12.07" height="12.01" fill="#b6d82c"/><rect x="726.53" y="1129.65" width="12.07" height="12.01" fill="#b6d82c"/><rect x="508.6" y="1141.06" width="12.07" height="12.01" fill="#004a11"/><rect x="520.07" y="1141.06" width="12.07" height="12.01" fill="#0a7c1d"/><rect x="531.54" y="1141.06" width="12.07" height="12.01" fill="#51ae27"/><rect x="543.01" y="1141.06" width="12.07" height="12.01" fill="#54b028"/><rect x="554.48" y="1141.06" width="12.07" height="12.01" fill="#cde130"/><rect x="565.95" y="1141.06" width="12.07" height="12.01" fill="#79c02a"/><rect x="577.42" y="1141.06" width="12.07" height="12.01" fill="#fff83a"/><rect x="588.89" y="1141.06" width="12.07" height="12.01" fill="#a0cd2a"/><rect x="600.36" y="1141.06" width="12.07" height="12.01" fill="#f1f138"/><rect x="611.83" y="1141.06" width="12.07" height="12.01" fill="#bddb2d"/><rect x="623.3" y="1141.06" width="12.07" height="12.01" fill="#dce734"/><rect x="634.77" y="1141.06" width="12.07" height="12.01" fill="#c6df2e"/><rect x="646.24" y="1141.06" width="12.07" height="12.01" fill="#d4e432"/><rect x="657.71" y="1141.06" width="12.07" height="12.01" fill="#cce130"/><rect x="669.18" y="1141.06" width="12.07" height="12.01" fill="#d1e331"/><rect x="680.65" y="1141.06" width="12.07" height="12.01" fill="#cfe230"/><rect x="692.12" y="1141.06" width="12.07" height="12.01" fill="#cfe230"/><rect x="703.59" y="1141.06" width="12.07" height="12.01" fill="#cfe230"/><rect x="715.06" y="1141.06" width="12.07" height="12.01" fill="#cfe230"/><rect x="726.53" y="1141.06" width="12.07" height="12.01" fill="#cfe230"/><rect x="508.6" y="1152.47" width="12.07" height="12.01" fill="#003b0e"/><rect x="520.07" y="1152.47" width="12.07" height="12.01" fill="#198720"/><rect x="531.54" y="1152.47" width="12.07" height="12.01" fill="#349b24"/><rect x="543.01" y="1152.47" width="12.07" height="12.01" fill="#81c32a"/><rect x="554.48" y="1152.47" width="12.07" height="12.01" fill="#7fc22a"/><rect x="565.95" y="1152.47" width="12.07" height="12.01" fill="#e8ed36"/><rect x="577.42" y="1152.47" width="12.07" height="12.01" fill="#a0cd2a"/><rect x="588.89" y="1152.47" width="12.07" height="12.01" fill="#fff83a"/><rect x="600.36" y="1152.47" width="12.07" height="12.01" fill="#b7d82d"/><rect x="611.83" y="1152.47" width="12.07" height="12.01" fill="#faf639"/><rect x="623.3" y="1152.47" width="12.07" height="12.01" fill="#cfe230"/><rect x="634.77" y="1152.47" width="12.07" height="12.01" fill="#e9ed36"/><rect x="646.24" y="1152.47" width="12.07" height="12.01" fill="#d6e532"/><rect x="657.71" y="1152.47" width="12.07" height="12.01" fill="#e2ea35"/><rect x="669.18" y="1152.47" width="12.07" height="12.01" fill="#dbe733"/><rect x="680.65" y="1152.47" width="12.07" height="12.01" fill="#e0e934"/><rect x="692.12" y="1152.47" width="12.07" height="12.01" fill="#dde834"/><rect x="703.59" y="1152.47" width="12.07" height="12.01" fill="#dde834"/><rect x="715.06" y="1152.47" width="12.07" height="12.01" fill="#dae633"/><rect x="726.53" y="1152.47" width="12.07" height="12.01" fill="#d4e432"/><rect x="508.6" y="1163.88" width="12.07" height="12.01" fill="#004510"/><rect x="520.07" y="1163.88" width="12.07" height="12.01" fill="#10801e"/><rect x="531.54" y="1163.88" width="12.07" height="12.01" fill="#46a826"/><rect x="543.01" y="1163.88" width="12.07" height="12.01" fill="#5fb629"/><rect x="554.48" y="1163.88" width="12.07" height="12.01" fill="#acd22b"/><rect x="565.95" y="1163.88" width="12.07" height="12.01" fill="#9dcc2a"/><rect x="577.42" y="1163.88" width="12.07" height="12.01" fill="#f1f138"/><rect x="588.89" y="1163.88" width="12.07" height="12.01" fill="#b7d82d"/><rect x="600.36" y="1163.88" width="12.07" height="12.01" fill="#fff83a"/><rect x="611.83" y="1163.88" width="12.07" height="12.01" fill="#c5de2e"/><rect x="623.3" y="1163.88" width="12.07" height="12.01" fill="#fff83a"/><rect x="634.77" y="1163.88" width="12.07" height="12.01" fill="#d9e633"/><rect x="646.24" y="1163.88" width="12.07" height="12.01" fill="#f0f137"/><rect x="657.71" y="1163.88" width="12.07" height="12.01" fill="#e0e934"/><rect x="669.18" y="1163.88" width="12.07" height="12.01" fill="#eaee36"/><rect x="680.65" y="1163.88" width="12.07" height="12.01" fill="#e4eb35"/><rect x="692.12" y="1163.88" width="12.07" height="12.01" fill="#e8ed36"/><rect x="703.59" y="1163.88" width="12.07" height="12.01" fill="#e6ec36"/><rect x="715.06" y="1163.88" width="12.07" height="12.01" fill="#e3ea35"/><rect x="726.53" y="1163.88" width="12.07" height="12.01" fill="#dde834"/><rect x="508.6" y="1175.29" width="12.07" height="12.01" fill="#00400f"/><rect x="520.07" y="1175.29" width="12.07" height="12.01" fill="#16841f"/><rect x="531.54" y="1175.29" width="12.07" height="12.01" fill="#3ba125"/><rect x="543.01" y="1175.29" width="12.07" height="12.01" fill="#74be2a"/><rect x="554.48" y="1175.29" width="12.07" height="12.01" fill="#8bc62a"/><rect x="565.95" y="1175.29" width="12.07" height="12.01" fill="#cbe130"/><rect x="577.42" y="1175.29" width="12.07" height="12.01" fill="#bddb2d"/><rect x="588.89" y="1175.29" width="12.07" height="12.01" fill="#faf639"/><rect x="600.36" y="1175.29" width="12.07" height="12.01" fill="#c5de2e"/><rect x="611.83" y="1175.29" width="12.07" height="12.01" fill="#fff83a"/><rect x="623.3" y="1175.29" width="12.07" height="12.01" fill="#d1e331"/><rect x="634.77" y="1175.29" width="12.07" height="12.01" fill="#fdf73a"/><rect x="646.24" y="1175.29" width="12.07" height="12.01" fill="#e0e934"/><rect x="657.71" y="1175.29" width="12.07" height="12.01" fill="#f1f138"/><rect x="669.18" y="1175.29" width="12.07" height="12.01" fill="#e5eb35"/><rect x="680.65" y="1175.29" width="12.07" height="12.01" fill="#edef37"/><rect x="692.12" y="1175.29" width="12.07" height="12.01" fill="#e8ed36"/><rect x="703.59" y="1175.29" width="12.07" height="12.01" fill="#ebee36"/><rect x="715.06" y="1175.29" width="12.07" height="12.01" fill="#e6ec36"/><rect x="726.53" y="1175.29" width="12.07" height="12.01" fill="#e1e935"/><rect x="508.6" y="1186.7" width="12.07" height="12.01" fill="#00400f"/><rect x="520.07" y="1186.7" width="12.07" height="12.01" fill="#13821f"/><rect x="531.54" y="1186.7" width="12.07" height="12.01" fill="#42a626"/><rect x="543.01" y="1186.7" width="12.07" height="12.01" fill="#68b929"/><rect x="554.48" y="1186.7" width="12.07" height="12.01" fill="#9fcd2a"/><rect x="565.95" y="1186.7" width="12.07" height="12.01" fill="#a9d12b"/><rect x="577.42" y="1186.7" width="12.07" height="12.01" fill="#dce734"/><rect x="588.89" y="1186.7" width="12.07" height="12.01" fill="#cfe230"/><rect x="600.36" y="1186.7" width="12.07" height="12.01" fill="#fff83a"/><rect x="611.83" y="1186.7" width="12.07" height="12.01" fill="#d1e331"/><rect x="623.3" y="1186.7" width="12.07" height="12.01" fill="#fff83a"/><rect x="634.77" y="1186.7" width="12.07" height="12.01" fill="#dce733"/><rect x="646.24" y="1186.7" width="12.07" height="12.01" fill="#f2f238"/><rect x="657.71" y="1186.7" width="12.07" height="12.01" fill="#e3ea35"/><rect x="669.18" y="1186.7" width="12.07" height="12.01" fill="#eff037"/><rect x="680.65" y="1186.7" width="12.07" height="12.01" fill="#e6ec36"/><rect x="692.12" y="1186.7" width="12.07" height="12.01" fill="#eef037"/><rect x="703.59" y="1186.7" width="12.07" height="12.01" fill="#e8ed36"/><rect x="715.06" y="1186.7" width="12.07" height="12.01" fill="#eaed36"/><rect x="726.53" y="1186.7" width="12.07" height="12.01" fill="#e1e934"/><rect x="508.6" y="1198.11" width="12.07" height="12.01" fill="#00400f"/><rect x="520.07" y="1198.11" width="12.07" height="12.01" fill="#13821f"/><rect x="531.54" y="1198.11" width="12.07" height="12.01" fill="#3fa325"/><rect x="543.01" y="1198.11" width="12.07" height="12.01" fill="#70bd2a"/><rect x="554.48" y="1198.11" width="12.07" height="12.01" fill="#93c92a"/><rect x="565.95" y="1198.11" width="12.07" height="12.01" fill="#bfdc2d"/><rect x="577.42" y="1198.11" width="12.07" height="12.01" fill="#c6df2e"/><rect x="588.89" y="1198.11" width="12.07" height="12.01" fill="#e9ed36"/><rect x="600.36" y="1198.11" width="12.07" height="12.01" fill="#d9e633"/><rect x="611.83" y="1198.11" width="12.07" height="12.01" fill="#fdf73a"/><rect x="623.3" y="1198.11" width="12.07" height="12.01" fill="#dce733"/><rect x="634.77" y="1198.11" width="12.07" height="12.01" fill="#fff83a"/><rect x="646.24" y="1198.11" width="12.07" height="12.01" fill="#dde834"/><rect x="657.71" y="1198.11" width="12.07" height="12.01" fill="#f4f238"/><rect x="669.18" y="1198.11" width="12.07" height="12.01" fill="#e5eb35"/><rect x="680.65" y="1198.11" width="12.07" height="12.01" fill="#f1f138"/><rect x="692.12" y="1198.11" width="12.07" height="12.01" fill="#e8ed36"/><rect x="703.59" y="1198.11" width="12.07" height="12.01" fill="#f0f037"/><rect x="715.06" y="1198.11" width="12.07" height="12.01" fill="#e6ec36"/><rect x="726.53" y="1198.11" width="12.07" height="12.01" fill="#e6ec36"/><rect x="508.6" y="1209.52" width="12.07" height="12.01" fill="#00400f"/><rect x="520.07" y="1209.52" width="12.07" height="12.01" fill="#13821f"/><rect x="531.54" y="1209.52" width="12.07" height="12.01" fill="#3fa325"/><rect x="543.01" y="1209.52" width="12.07" height="12.01" fill="#6cbb29"/><rect x="554.48" y="1209.52" width="12.07" height="12.01" fill="#9bcb2a"/><rect x="565.95" y="1209.52" width="12.07" height="12.01" fill="#b2d62c"/><rect x="577.42" y="1209.52" width="12.07" height="12.01" fill="#d4e432"/><rect x="588.89" y="1209.52" width="12.07" height="12.01" fill="#d6e532"/><rect x="600.36" y="1209.52" width="12.07" height="12.01" fill="#f0f137"/><rect x="611.83" y="1209.52" width="12.07" height="12.01" fill="#e0e934"/><rect x="623.3" y="1209.52" width="12.07" height="12.01" fill="#f2f238"/><rect x="634.77" y="1209.52" width="12.07" height="12.01" fill="#dde834"/><rect x="646.24" y="1209.52" width="12.07" height="12.01" fill="#fff83a"/><rect x="657.71" y="1209.52" width="12.07" height="12.01" fill="#dde834"/><rect x="669.18" y="1209.52" width="12.07" height="12.01" fill="#f4f238"/><rect x="680.65" y="1209.52" width="12.07" height="12.01" fill="#e5eb35"/><rect x="692.12" y="1209.52" width="12.07" height="12.01" fill="#f1f138"/><rect x="703.59" y="1209.52" width="12.07" height="12.01" fill="#e8ed36"/><rect x="715.06" y="1209.52" width="12.07" height="12.01" fill="#ecef37"/><rect x="726.53" y="1209.52" width="12.07" height="12.01" fill="#e1e935"/><rect x="508.6" y="1220.93" width="12.07" height="12.01" fill="#00400f"/><rect x="520.07" y="1220.93" width="12.07" height="12.01" fill="#13821f"/><rect x="531.54" y="1220.93" width="12.07" height="12.01" fill="#3fa325"/><rect x="543.01" y="1220.93" width="12.07" height="12.01" fill="#6cbb29"/><rect x="554.48" y="1220.93" width="12.07" height="12.01" fill="#97ca2a"/><rect x="565.95" y="1220.93" width="12.07" height="12.01" fill="#bbda2d"/><rect x="577.42" y="1220.93" width="12.07" height="12.01" fill="#cce130"/><rect x="588.89" y="1220.93" width="12.07" height="12.01" fill="#e2ea35"/><rect x="600.36" y="1220.93" width="12.07" height="12.01" fill="#e0e934"/><rect x="611.83" y="1220.93" width="12.07" height="12.01" fill="#f1f138"/><rect x="623.3" y="1220.93" width="12.07" height="12.01" fill="#e3ea35"/><rect x="634.77" y="1220.93" width="12.07" height="12.01" fill="#f4f238"/><rect x="646.24" y="1220.93" width="12.07" height="12.01" fill="#dde834"/><rect x="657.71" y="1220.93" width="12.07" height="12.01" fill="#fff83a"/><rect x="669.18" y="1220.93" width="12.07" height="12.01" fill="#dde834"/><rect x="680.65" y="1220.93" width="12.07" height="12.01" fill="#f4f238"/><rect x="692.12" y="1220.93" width="12.07" height="12.01" fill="#e5eb35"/><rect x="703.59" y="1220.93" width="12.07" height="12.01" fill="#f1f138"/><rect x="715.06" y="1220.93" width="12.07" height="12.01" fill="#e5eb35"/><rect x="726.53" y="1220.93" width="12.07" height="12.01" fill="#e7ec36"/><rect x="508.6" y="1232.34" width="12.07" height="12.01" fill="#00400f"/><rect x="520.07" y="1232.34" width="12.07" height="12.01" fill="#13821f"/><rect x="531.54" y="1232.34" width="12.07" height="12.01" fill="#3fa325"/><rect x="543.01" y="1232.34" width="12.07" height="12.01" fill="#6cbb29"/><rect x="554.48" y="1232.34" width="12.07" height="12.01" fill="#97ca2a"/><rect x="565.95" y="1232.34" width="12.07" height="12.01" fill="#b6d82c"/><rect x="577.42" y="1232.34" width="12.07" height="12.01" fill="#d1e331"/><rect x="588.89" y="1232.34" width="12.07" height="12.01" fill="#dbe733"/><rect x="600.36" y="1232.34" width="12.07" height="12.01" fill="#eaee36"/><rect x="611.83" y="1232.34" width="12.07" height="12.01" fill="#e5eb35"/><rect x="623.3" y="1232.34" width="12.07" height="12.01" fill="#eff037"/><rect x="634.77" y="1232.34" width="12.07" height="12.01" fill="#e5eb35"/><rect x="646.24" y="1232.34" width="12.07" height="12.01" fill="#f4f238"/><rect x="657.71" y="1232.34" width="12.07" height="12.01" fill="#dde834"/><rect x="669.18" y="1232.34" width="12.07" height="12.01" fill="#fff83a"/><rect x="680.65" y="1232.34" width="12.07" height="12.01" fill="#dde834"/><rect x="692.12" y="1232.34" width="12.07" height="12.01" fill="#f4f238"/><rect x="703.59" y="1232.34" width="12.07" height="12.01" fill="#e5eb35"/><rect x="715.06" y="1232.34" width="12.07" height="12.01" fill="#eeef37"/><rect x="726.53" y="1232.34" width="12.07" height="12.01" fill="#dfe934"/><rect x="508.6" y="1243.75" width="12.07" height="12.01" fill="#00400f"/><rect x="520.07" y="1243.75" width="12.07" height="12.01" fill="#13821f"/><rect x="531.54" y="1243.75" width="12.07" height="12.01" fill="#3fa325"/><rect x="543.01" y="1243.75" width="12.07" height="12.01" fill="#6cbb29"/><rect x="554.48" y="1243.75" width="12.07" height="12.01" fill="#97ca2a"/><rect x="565.95" y="1243.75" width="12.07" height="12.01" fill="#b6d82c"/><rect x="577.42" y="1243.75" width="12.07" height="12.01" fill="#cfe230"/><rect x="588.89" y="1243.75" width="12.07" height="12.01" fill="#e0e934"/><rect x="600.36" y="1243.75" width="12.07" height="12.01" fill="#e4eb35"/><rect x="611.83" y="1243.75" width="12.07" height="12.01" fill="#edef37"/><rect x="623.3" y="1243.75" width="12.07" height="12.01" fill="#e6ec36"/><rect x="634.77" y="1243.75" width="12.07" height="12.01" fill="#f1f138"/><rect x="646.24" y="1243.75" width="12.07" height="12.01" fill="#e5eb35"/><rect x="657.71" y="1243.75" width="12.07" height="12.01" fill="#f4f238"/><rect x="669.18" y="1243.75" width="12.07" height="12.01" fill="#dde834"/><rect x="680.65" y="1243.75" width="12.07" height="12.01" fill="#fff83a"/><rect x="692.12" y="1243.75" width="12.07" height="12.01" fill="#dde834"/><rect x="703.59" y="1243.75" width="12.07" height="12.01" fill="#f4f238"/><rect x="715.06" y="1243.75" width="12.07" height="12.01" fill="#e1e935"/><rect x="726.53" y="1243.75" width="12.07" height="12.01" fill="#e9ed36"/><rect x="508.6" y="1255.16" width="12.07" height="12.01" fill="#00400f"/><rect x="520.07" y="1255.16" width="12.07" height="12.01" fill="#13821f"/><rect x="531.54" y="1255.16" width="12.07" height="12.01" fill="#3fa325"/><rect x="543.01" y="1255.16" width="12.07" height="12.01" fill="#6cbb29"/><rect x="554.48" y="1255.16" width="12.07" height="12.01" fill="#97ca2a"/><rect x="565.95" y="1255.16" width="12.07" height="12.01" fill="#b6d82c"/><rect x="577.42" y="1255.16" width="12.07" height="12.01" fill="#cfe230"/><rect x="588.89" y="1255.16" width="12.07" height="12.01" fill="#dde834"/><rect x="600.36" y="1255.16" width="12.07" height="12.01" fill="#e8ed36"/><rect x="611.83" y="1255.16" width="12.07" height="12.01" fill="#e8ed36"/><rect x="623.3" y="1255.16" width="12.07" height="12.01" fill="#eef037"/><rect x="634.77" y="1255.16" width="12.07" height="12.01" fill="#e8ed36"/><rect x="646.24" y="1255.16" width="12.07" height="12.01" fill="#f1f138"/><rect x="657.71" y="1255.16" width="12.07" height="12.01" fill="#e5eb35"/><rect x="669.18" y="1255.16" width="12.07" height="12.01" fill="#f4f238"/><rect x="680.65" y="1255.16" width="12.07" height="12.01" fill="#dde834"/><rect x="692.12" y="1255.16" width="12.07" height="12.01" fill="#fff83a"/><rect x="703.59" y="1255.16" width="12.07" height="12.01" fill="#dde834"/><rect x="715.06" y="1255.16" width="12.07" height="12.01" fill="#f0f137"/><rect x="726.53" y="1255.16" width="12.07" height="12.01" fill="#dce733"/><rect x="508.6" y="1266.57" width="12.07" height="12.01" fill="#00400f"/><rect x="520.07" y="1266.57" width="12.07" height="12.01" fill="#13821f"/><rect x="531.54" y="1266.57" width="12.07" height="12.01" fill="#3fa325"/><rect x="543.01" y="1266.57" width="12.07" height="12.01" fill="#6cbb29"/><rect x="554.48" y="1266.57" width="12.07" height="12.01" fill="#97ca2a"/><rect x="565.95" y="1266.57" width="12.07" height="12.01" fill="#b6d82c"/><rect x="577.42" y="1266.57" width="12.07" height="12.01" fill="#cfe230"/><rect x="588.89" y="1266.57" width="12.07" height="12.01" fill="#dde834"/><rect x="600.36" y="1266.57" width="12.07" height="12.01" fill="#e6ec36"/><rect x="611.83" y="1266.57" width="12.07" height="12.01" fill="#ebee36"/><rect x="623.3" y="1266.57" width="12.07" height="12.01" fill="#e8ed36"/><rect x="634.77" y="1266.57" width="12.07" height="12.01" fill="#f0f037"/><rect x="646.24" y="1266.57" width="12.07" height="12.01" fill="#e8ed36"/><rect x="657.71" y="1266.57" width="12.07" height="12.01" fill="#f1f138"/><rect x="669.18" y="1266.57" width="12.07" height="12.01" fill="#e5eb35"/><rect x="680.65" y="1266.57" width="12.07" height="12.01" fill="#f4f238"/><rect x="692.12" y="1266.57" width="12.07" height="12.01" fill="#dde834"/><rect x="703.59" y="1266.57" width="12.07" height="12.01" fill="#fff83a"/><rect x="715.06" y="1266.57" width="12.07" height="12.01" fill="#dae633"/><rect x="726.53" y="1266.57" width="12.07" height="12.01" fill="#ebee36"/><rect x="508.6" y="1277.98" width="12.07" height="12.01" fill="#00400f"/><rect x="520.07" y="1277.98" width="12.07" height="12.01" fill="#13821f"/><rect x="531.54" y="1277.98" width="12.07" height="12.01" fill="#3fa325"/><rect x="543.01" y="1277.98" width="12.07" height="12.01" fill="#6cbb29"/><rect x="554.48" y="1277.98" width="12.07" height="12.01" fill="#97ca2a"/><rect x="565.95" y="1277.98" width="12.07" height="12.01" fill="#b6d82c"/><rect x="577.42" y="1277.98" width="12.07" height="12.01" fill="#cfe230"/><rect x="588.89" y="1277.98" width="12.07" height="12.01" fill="#dae633"/><rect x="600.36" y="1277.98" width="12.07" height="12.01" fill="#e3ea35"/><rect x="611.83" y="1277.98" width="12.07" height="12.01" fill="#e6ec36"/><rect x="623.3" y="1277.98" width="12.07" height="12.01" fill="#eaed36"/><rect x="634.77" y="1277.98" width="12.07" height="12.01" fill="#e6ec36"/><rect x="646.24" y="1277.98" width="12.07" height="12.01" fill="#ecef37"/><rect x="657.71" y="1277.98" width="12.07" height="12.01" fill="#e5eb35"/><rect x="669.18" y="1277.98" width="12.07" height="12.01" fill="#eeef37"/><rect x="680.65" y="1277.98" width="12.07" height="12.01" fill="#e1e935"/><rect x="692.12" y="1277.98" width="12.07" height="12.01" fill="#f0f137"/><rect x="703.59" y="1277.98" width="12.07" height="12.01" fill="#dae633"/><rect x="715.06" y="1277.98" width="12.07" height="12.01" fill="#fff83a"/><rect x="726.53" y="1277.98" width="12.07" height="12.01" fill="#d2e431"/><rect x="508.6" y="1289.39" width="12.07" height="12.01" fill="#00400f"/><rect x="520.07" y="1289.39" width="12.07" height="12.01" fill="#13821f"/><rect x="531.54" y="1289.39" width="12.07" height="12.01" fill="#3fa325"/><rect x="543.01" y="1289.39" width="12.07" height="12.01" fill="#6cbb29"/><rect x="554.48" y="1289.39" width="12.07" height="12.01" fill="#97ca2a"/><rect x="565.95" y="1289.39" width="12.07" height="12.01" fill="#b6d82c"/><rect x="577.42" y="1289.39" width="12.07" height="12.01" fill="#cfe230"/><rect x="588.89" y="1289.39" width="12.07" height="12.01" fill="#d4e432"/><rect x="600.36" y="1289.39" width="12.07" height="12.01" fill="#dde834"/><rect x="611.83" y="1289.39" width="12.07" height="12.01" fill="#e1e935"/><rect x="623.3" y="1289.39" width="12.07" height="12.01" fill="#e1e934"/><rect x="634.77" y="1289.39" width="12.07" height="12.01" fill="#e6ec36"/><rect x="646.24" y="1289.39" width="12.07" height="12.01" fill="#e1e935"/><rect x="657.71" y="1289.39" width="12.07" height="12.01" fill="#e7ec36"/><rect x="669.18" y="1289.39" width="12.07" height="12.01" fill="#dfe934"/><rect x="680.65" y="1289.39" width="12.07" height="12.01" fill="#e9ed36"/><rect x="692.12" y="1289.39" width="12.07" height="12.01" fill="#dce733"/><rect x="703.59" y="1289.39" width="12.07" height="12.01" fill="#ebee36"/><rect x="715.06" y="1289.39" width="12.07" height="12.01" fill="#d2e431"/><rect x="726.53" y="1289.39" width="12.07" height="12.01" fill="#fff83a"/></g>
<rect x="504.5" y="1067.6" width="238.3" height="237.7" fill="none" stroke="#111" stroke-width="1.4"/><path d="M560.22 1067.6v4M560.22 1305.3v-4M617.57 1067.6v4M617.57 1305.3v-4M674.91 1067.6v4M674.91 1305.3v-4M732.27 1067.6v4M732.27 1305.3v-4M504.5 1123.94h4M742.8 1123.94h-4M504.5 1180.99h4M742.8 1180.99h-4M504.5 1238.04h4M742.8 1238.04h-4M504.5 1295.09h4M742.8 1295.09h-4" stroke="#111" stroke-width="1.1" fill="none"/>
<text x="560.22" y="1337.8" font-family="Liberation Sans" font-size="30" text-anchor="middle">5</text>
<text x="617.57" y="1337.8" font-family="Liberation Sans" font-size="30" text-anchor="middle">10</text>
<text x="674.91" y="1337.8" font-family="Liberation Sans" font-size="30" text-anchor="middle">15</text>
<text x="723.8" y="1337.8" font-family="Liberation Sans" font-size="30" text-anchor="middle">20</text>
<text x="492.2" y="1134.14" font-family="Liberation Sans" font-size="30" text-anchor="end">5</text>
<text x="492.2" y="1191.19" font-family="Liberation Sans" font-size="30" text-anchor="end">10</text>
<text x="492.2" y="1248.24" font-family="Liberation Sans" font-size="30" text-anchor="end">15</text>
<text x="492.2" y="1305.29" font-family="Liberation Sans" font-size="30" text-anchor="end">20</text>
<text x="625.5" y="1371.5" font-family="Liberation Sans" font-style="italic" font-size="29">x<tspan font-style="normal" font-size="20" dy="6">2</tspan></text>
<text transform="translate(435.5,1199) rotate(-90)" font-family="Liberation Sans" font-style="italic" font-size="29">x<tspan font-style="normal" font-size="20" dy="6">1</tspan></text>
<rect x="796.3" y="1070.5" width="61.5" height="233.6" fill="#fff" stroke="#a8a8a8" stroke-width="1.1"/>
<rect x="798.1" y="1282.97" width="22.6" height="19.52" fill="#fff83a"/>
<rect x="798.1" y="1263.85" width="22.6" height="19.52" fill="#e3ea35"/>
<rect x="798.1" y="1244.72" width="22.6" height="19.52" fill="#c4de2e"/>
<rect x="798.1" y="1225.6" width="22.6" height="19.52" fill="#a0cd2a"/>
<rect x="798.1" y="1206.47" width="22.6" height="19.52" fill="#7fc22a"/>
<rect x="798.1" y="1187.35" width="22.6" height="19.52" fill="#5cb529"/>
<rect x="798.1" y="1168.22" width="22.6" height="19.52" fill="#3ea325"/>
<rect x="798.1" y="1149.1" width="22.6" height="19.52" fill="#218c22"/>
<rect x="798.1" y="1129.97" width="22.6" height="19.52" fill="#077a1c"/>
<rect x="798.1" y="1110.85" width="22.6" height="19.52" fill="#004e12"/>
<rect x="798.1" y="1091.72" width="22.6" height="19.52" fill="#00240a"/>
<rect x="798.1" y="1072.6" width="22.6" height="19.52" fill="#000000"/>
<text x="824.6" y="1089.2" font-family="Liberation Sans" font-size="17.3">100</text>
<text x="824.6" y="1298.1" font-family="Liberation Sans" font-size="17.3">0</text>
<text x="754.5" y="1039" font-family="Liberation Sans" font-style="italic" font-size="29.5">Z</text>
<text x="775.5" y="1027.9" font-family="Liberation Sans" font-size="20.5">AA</text>
<text x="811.5" y="1039" font-family="Liberation Sans" font-size="29.5">[Ohm]</text>
<path d="M198.1 983 H267.6 A18.1 30 0 0 1 267.6 1043 H198.1 A18.1 30 0 0 1 198.1 983 Z" fill="#eeeae1" stroke="#8a8a8a" stroke-width="2.6"/><ellipse cx="198.1" cy="1013" rx="18.1" ry="30" fill="none" stroke="#8a8a8a" stroke-width="2.6"/>
<path d="M255.3 983 A14.2 30 0 0 0 255.3 1043" fill="none" stroke="#222" stroke-width="0.9" stroke-dasharray="1.2 1.3"/>
<path d="M255.3 983 A14.2 30 0 0 1 255.3 1043" fill="none" stroke="#222" stroke-width="0.7" stroke-dasharray="1.2 1.3" opacity="0.7"/>
<path d="M270.3 1027.8 C272.3 1017 272.8 1006 270.8 998" fill="none" stroke="#000" stroke-width="4"/>
<polygon points="266.5,990.2 276.6,999.5 266.3,1003.2"/>
<line x1="201.1" y1="973" x2="249.7" y2="973" stroke="#000" stroke-width="1.7"/><polygon points="194.6,973 202.1,968.8 202.1,977.2"/><polygon points="256.2,973 248.7,968.8 248.7,977.2"/>
<text x="219.2" y="966.9" font-family="Liberation Sans" font-style="italic" font-size="27.5">x</text>
<text x="292.5" y="1004.5" font-family="Liberation Sans" font-style="italic" font-size="27.5">y</text>
<path d="M600.7 977.6 H671.4 A17.7 29.6 0 0 1 671.4 1036.8 H600.7 A17.7 29.6 0 0 1 600.7 977.6 Z" fill="#eeeae1" stroke="#8a8a8a" stroke-width="2.6"/><ellipse cx="600.7" cy="1007.2" rx="17.7" ry="29.6" fill="none" stroke="#8a8a8a" stroke-width="2.6"/>
<ellipse cx="623" cy="1007.2" rx="16.1" ry="29.6" fill="none" stroke="#222" stroke-width="0.8" stroke-dasharray="1.2 1.3"/>
<ellipse cx="659.1" cy="1007.2" rx="16.9" ry="29.6" fill="none" stroke="#222" stroke-width="0.8" stroke-dasharray="1.2 1.3"/>
<line x1="637.6" y1="1023.2" x2="664" y2="1023.2" stroke="#000" stroke-width="4"/>
<polygon points="675,1023.2 662.5,1017.3 662.5,1029.1"/>
<line x1="604.2" y1="966.9" x2="652.6" y2="966.9" stroke="#000" stroke-width="1.7"/><polygon points="597.7,966.9 605.2,962.7 605.2,971.1"/><polygon points="659.1,966.9 651.6,962.7 651.6,971.1"/>
<line x1="603.9" y1="1046" x2="622.1" y2="1046" stroke="#000" stroke-width="1.7"/><polygon points="598.4,1046 604.9,1042.2 604.9,1049.8"/><polygon points="627.6,1046 621.1,1042.2 621.1,1049.8"/>
<text x="615.5" y="954.6" font-family="Liberation Sans" font-style="italic" font-size="27.5">x<tspan font-style="normal" font-size="19.5" dy="7">2</tspan></text>
<text x="631" y="1056.8" font-family="Liberation Sans" font-style="italic" font-size="27.5">x<tspan font-style="normal" font-size="19.5" dy="7">1</tspan></text>
</svg></body></html>
